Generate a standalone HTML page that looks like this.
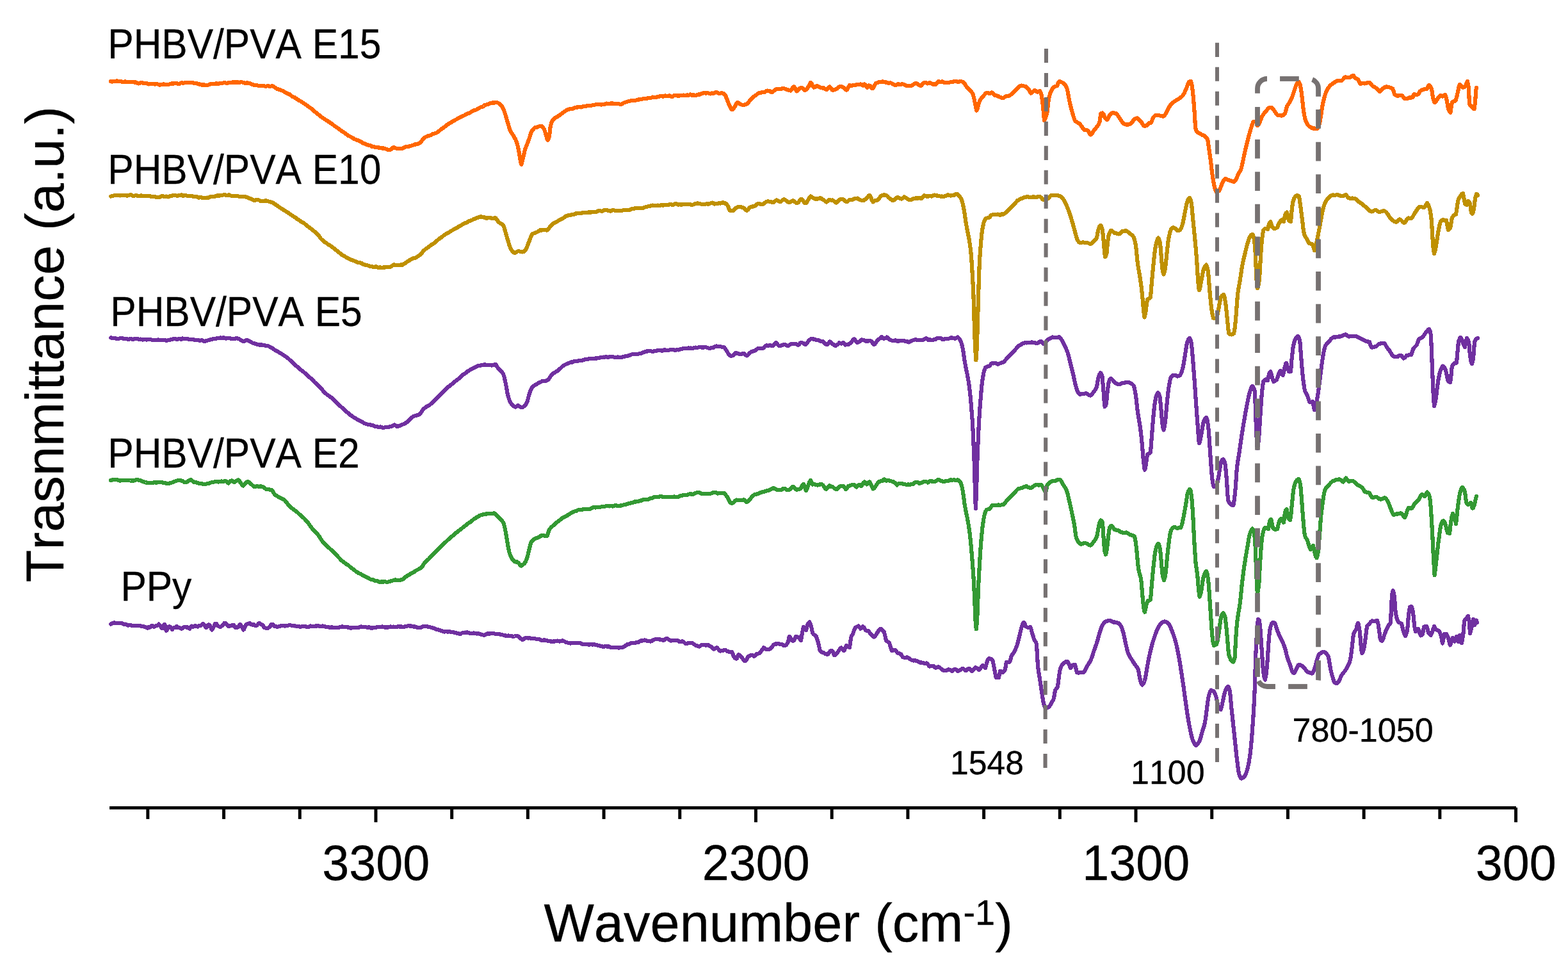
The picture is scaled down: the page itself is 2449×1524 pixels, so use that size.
<!DOCTYPE html>
<html lang="en"><head><meta charset="utf-8"><title>FTIR spectra</title>
<style>html,body{margin:0;padding:0;background:#fff}body{width:2449px;height:1524px;overflow:hidden}svg{display:block}</style></head>
<body>
<svg xmlns="http://www.w3.org/2000/svg" width="2449" height="1524" viewBox="0 0 2449 1524">
<rect width="2449" height="1524" fill="#ffffff"/>
<g fill="none" stroke-width="6.2" stroke-linejoin="round" stroke-linecap="round" shape-rendering="crispEdges">
<path stroke="#7030A0" d="M173.1,974.5 174.7,973.8 176.3,972.9 177.9,972.3 179.5,972.7 181.1,972.9 182.7,972.8 184.3,973.1 186.0,973.0 187.5,972.7 189.1,972.9 190.7,973.5 192.3,974.3 193.9,974.7 195.5,974.6 197.1,975.1 198.7,976.1 200.0,976.6 201.9,976.3 203.5,976.2 205.1,976.6 206.7,976.6 208.3,977.0 209.9,977.4 211.5,977.1 213.1,977.0 214.7,977.1 216.0,976.9 217.9,977.1 219.5,977.4 221.1,977.8 222.7,978.2 224.3,978.2 225.9,978.7 227.5,979.4 229.1,979.9 230.0,980.8 230.7,980.6 232.3,979.0 233.9,979.8 235.5,978.6 237.1,977.0 238.7,977.5 240.0,978.5 241.9,978.4 243.5,976.9 245.1,977.0 246.7,976.4 248.0,974.6 249.9,976.2 251.5,979.2 253.1,981.2 254.0,981.4 254.7,979.9 256.3,975.2 257.0,974.7 257.9,976.7 259.5,984.0 260.0,984.7 261.1,983.5 262.7,979.3 264.0,978.3 265.9,978.8 267.5,980.8 269.0,983.0 270.7,980.6 272.3,979.9 273.9,980.3 275.5,978.3 276.0,978.2 277.1,979.7 278.7,980.2 280.3,980.3 281.9,980.8 283.5,981.8 284.0,981.7 285.1,980.6 286.7,979.5 288.3,978.8 290.0,978.6 291.5,979.9 293.1,979.4 294.7,981.2 296.3,981.7 297.9,978.9 299.5,977.6 300.0,978.5 301.1,979.1 302.7,977.9 304.3,977.5 305.9,977.4 307.5,978.0 309.1,978.5 310.7,976.9 312.0,976.8 313.9,976.6 315.5,975.3 317.1,973.7 318.0,974.8 318.7,975.4 320.3,977.7 321.9,980.0 323.0,979.0 325.1,975.7 326.0,975.5 326.7,975.6 328.3,977.7 329.9,981.5 331.0,983.4 333.1,979.8 334.7,977.5 336.0,973.8 337.9,973.6 339.5,976.7 341.1,977.8 342.7,978.6 344.0,978.9 345.9,977.8 347.5,976.9 349.1,974.8 350.7,972.6 352.3,972.7 353.0,974.1 353.9,974.7 355.5,976.9 357.0,978.4 358.7,977.8 360.3,977.0 361.9,977.0 363.0,976.1 365.1,976.2 366.7,978.6 368.3,980.2 369.0,979.0 369.9,979.7 371.5,979.4 373.1,977.3 375.0,975.1 376.3,976.0 377.9,979.4 379.5,981.8 380.0,983.5 381.1,982.6 382.7,978.9 384.0,976.0 385.9,974.4 387.5,974.2 389.1,973.4 390.0,972.8 390.7,973.8 392.3,975.0 393.9,975.5 395.5,975.7 396.0,975.1 397.1,975.6 398.7,977.2 400.3,977.2 401.9,975.8 403.5,973.7 405.1,973.2 406.0,974.1 406.7,974.6 408.3,975.1 409.9,975.7 411.5,977.9 412.0,979.6 413.1,980.2 414.7,980.6 416.3,980.7 418.0,981.0 419.5,980.0 421.1,979.1 422.0,977.8 422.7,976.7 424.3,974.9 426.0,974.6 427.5,976.0 429.1,978.2 430.0,978.0 430.7,977.8 432.3,978.6 433.9,978.7 435.5,978.3 437.1,977.8 438.7,977.3 440.0,976.6 441.9,976.6 443.5,977.3 445.1,977.6 446.7,976.9 448.3,976.7 449.9,976.7 451.5,976.2 453.1,976.1 454.7,976.6 456.3,976.9 457.9,977.1 459.5,977.5 460.0,977.2 461.1,977.4 462.7,978.0 464.3,978.1 465.9,977.7 467.5,978.2 469.1,978.8 470.7,978.5 472.0,978.2 473.9,978.1 475.5,978.0 477.1,978.2 478.7,978.8 480.3,979.2 481.9,979.1 483.5,978.2 485.1,977.5 486.7,977.7 488.3,977.9 490.0,978.1 491.5,977.7 493.1,977.4 494.7,977.5 496.3,977.2 497.9,977.4 499.5,978.1 501.1,978.4 502.7,978.3 504.0,977.4 505.9,977.9 507.5,978.5 509.1,978.6 510.7,978.8 512.3,978.9 513.9,979.5 515.5,979.7 517.1,979.5 518.7,979.5 520.0,979.7 521.9,979.9 523.5,980.2 525.1,980.2 526.7,980.3 528.3,980.1 529.9,979.5 531.5,979.0 533.1,978.6 534.7,978.4 536.0,978.6 537.9,978.9 539.5,978.9 541.1,979.2 542.7,979.5 544.3,979.5 545.9,979.9 547.5,980.6 549.1,980.7 550.0,979.9 550.7,979.7 552.3,979.7 553.9,979.9 555.5,980.2 557.1,980.1 558.7,980.0 560.3,979.7 561.9,978.9 563.5,978.5 565.1,978.7 566.7,978.8 568.0,978.6 569.9,978.9 571.5,979.3 573.1,979.6 574.7,979.6 576.3,979.4 577.9,979.7 579.5,980.6 581.1,980.8 582.0,980.2 582.7,980.2 584.3,980.0 585.9,979.7 587.5,979.6 589.1,979.2 590.7,979.0 592.3,979.0 593.9,978.7 595.5,978.7 596.0,978.7 597.1,978.5 598.7,978.9 600.3,979.4 601.9,979.5 603.5,979.6 605.1,979.4 606.0,979.6 606.7,979.5 608.3,978.7 609.9,978.5 611.5,979.2 613.1,978.9 614.7,978.6 616.3,978.9 617.9,979.0 619.5,978.9 621.1,978.4 622.7,978.2 624.0,978.5 625.9,978.4 627.5,978.5 629.1,978.8 630.7,978.8 632.3,978.4 633.9,978.1 635.5,977.8 637.1,977.3 638.7,977.4 640.3,977.4 641.9,977.5 643.5,977.8 645.1,978.2 646.0,978.7 646.7,978.5 648.3,978.4 649.9,979.2 651.5,979.7 652.0,980.1 653.1,980.3 654.7,980.3 656.3,980.1 657.9,979.8 659.5,978.9 661.1,978.0 662.7,978.0 664.3,978.1 665.9,978.0 667.5,978.2 668.0,978.8 669.1,978.8 670.7,979.0 672.3,979.4 673.9,980.0 675.5,980.3 677.1,980.9 678.7,981.4 680.0,982.1 681.9,982.9 683.5,982.8 685.1,983.3 686.7,984.2 688.3,984.5 689.9,984.9 691.5,985.7 693.1,986.2 694.0,986.5 694.7,986.2 696.3,985.8 697.9,986.2 699.5,986.6 701.1,986.1 702.7,986.3 704.3,987.0 705.9,987.3 707.5,987.2 708.0,986.9 709.1,987.6 710.7,987.9 712.3,988.3 713.9,989.0 715.5,989.4 717.1,989.5 718.0,989.9 718.7,990.2 720.3,989.1 721.9,988.3 723.5,988.2 725.1,987.8 726.7,987.6 728.0,987.7 729.9,987.3 731.5,987.8 733.1,988.6 734.7,989.3 736.0,989.4 737.9,988.8 739.5,988.5 741.1,988.7 742.7,988.9 744.3,989.5 745.9,989.4 747.5,989.2 748.0,989.5 749.1,990.1 750.7,990.4 752.3,990.8 753.9,991.4 755.5,991.7 756.0,992.0 757.1,991.7 758.7,990.6 760.3,989.6 762.0,989.4 763.5,989.6 765.1,989.5 766.7,989.1 768.3,989.0 769.9,989.2 771.5,989.2 773.1,989.7 774.7,990.0 776.3,990.1 777.9,989.9 779.5,989.9 780.0,990.2 781.1,990.8 782.7,991.1 784.3,991.3 785.9,991.6 787.5,991.9 789.1,992.0 790.0,992.9 790.7,993.2 792.3,992.9 793.9,992.5 795.5,992.7 797.1,993.3 798.7,993.4 800.3,993.6 801.9,994.0 803.5,993.5 805.1,992.7 806.7,992.7 808.0,993.0 809.9,994.0 811.5,995.3 813.1,996.9 814.7,998.2 816.0,998.8 817.9,997.9 819.5,996.8 820.0,996.8 821.1,995.9 822.7,995.8 824.3,996.4 825.9,996.4 827.5,996.3 829.1,996.9 830.0,997.4 830.7,997.2 832.3,996.8 833.9,996.9 835.5,997.3 837.1,997.7 838.7,998.1 840.3,998.3 841.9,998.4 843.5,998.4 844.0,999.2 845.1,999.8 846.7,999.8 848.3,999.7 849.9,999.4 851.5,999.5 853.1,999.8 854.7,1000.4 856.3,1000.7 858.0,1000.6 859.5,1000.8 860.0,1001.4 861.1,1002.2 862.7,1001.8 864.3,1001.4 865.9,1001.5 867.5,1001.4 869.1,1001.0 870.7,1000.5 872.3,1000.9 873.9,1001.6 875.5,1001.3 877.1,1000.7 878.7,1000.4 880.0,1000.8 881.9,1001.7 883.5,1002.8 884.0,1003.1 885.1,1003.2 886.7,1003.6 888.3,1004.2 890.0,1004.4 891.5,1004.4 893.1,1004.0 894.7,1003.7 896.3,1003.9 897.9,1004.0 899.5,1004.2 901.1,1003.9 902.0,1003.7 902.7,1003.9 904.3,1004.0 905.9,1004.1 907.5,1004.7 909.1,1005.5 910.7,1006.1 912.0,1006.2 913.9,1006.2 915.5,1005.8 917.1,1006.1 918.7,1006.6 920.3,1006.5 921.9,1006.4 923.5,1005.8 924.0,1006.1 925.1,1006.5 926.7,1006.4 928.3,1006.3 929.9,1006.7 931.5,1006.7 933.1,1007.5 934.7,1008.1 936.0,1008.3 937.9,1008.6 939.5,1009.0 941.1,1009.5 942.0,1009.8 942.7,1010.0 944.3,1009.4 946.0,1009.2 947.5,1009.5 949.1,1009.6 950.7,1009.4 952.3,1010.0 953.9,1010.9 955.5,1011.2 956.0,1010.9 957.1,1010.9 958.7,1011.1 960.3,1011.2 961.9,1011.0 963.5,1010.9 965.1,1010.8 966.0,1011.3 966.7,1011.7 968.3,1011.2 969.9,1011.2 971.5,1011.1 973.1,1010.4 974.0,1010.2 974.7,1009.7 976.3,1008.8 977.9,1007.5 979.5,1006.4 980.0,1006.6 981.1,1006.4 982.7,1005.5 984.3,1004.9 985.9,1004.1 987.5,1003.8 988.0,1004.0 989.1,1003.9 990.7,1004.0 992.3,1003.9 993.9,1003.1 995.5,1002.8 996.0,1003.2 997.1,1003.1 998.7,1001.7 1000.3,1000.5 1002.0,1000.4 1003.5,1000.6 1005.1,999.8 1006.7,999.5 1008.0,999.7 1009.9,1000.4 1011.5,1000.9 1013.1,1000.8 1014.7,1000.9 1016.0,1001.5 1017.9,1001.0 1019.5,999.7 1021.1,998.9 1022.7,998.4 1024.0,998.1 1025.9,998.2 1027.5,998.3 1029.1,998.4 1030.0,998.4 1030.7,998.4 1032.3,998.9 1033.9,999.2 1035.5,999.7 1036.0,1000.0 1037.1,999.4 1038.7,998.3 1040.3,997.3 1042.0,996.9 1043.5,997.9 1045.1,999.0 1046.7,1000.2 1048.0,1000.5 1049.9,1000.2 1051.5,1000.0 1053.1,1000.1 1054.7,1000.3 1056.3,1000.3 1058.0,999.9 1059.5,1000.7 1061.1,1001.9 1062.0,1002.0 1062.7,1001.9 1064.3,1001.6 1066.0,1001.3 1067.5,1001.9 1069.1,1003.7 1071.0,1005.0 1072.3,1005.1 1073.9,1004.6 1075.5,1004.0 1077.1,1004.1 1078.7,1004.3 1080.0,1004.1 1081.9,1004.5 1083.5,1005.7 1085.1,1006.8 1086.0,1007.4 1086.7,1007.7 1088.3,1008.2 1089.9,1008.8 1091.5,1009.2 1092.0,1009.5 1093.1,1009.1 1094.7,1007.8 1096.0,1007.2 1097.9,1007.0 1099.5,1007.0 1101.1,1007.0 1102.0,1007.8 1102.7,1007.6 1104.3,1006.7 1105.9,1007.1 1107.5,1008.4 1109.1,1009.2 1110.0,1009.5 1110.7,1009.9 1112.3,1011.6 1113.9,1013.1 1115.0,1013.7 1117.1,1012.3 1119.0,1011.4 1120.3,1011.6 1121.9,1013.4 1123.5,1015.4 1125.1,1016.7 1126.0,1016.3 1126.7,1016.3 1128.3,1016.3 1129.9,1015.3 1131.5,1014.7 1132.0,1014.7 1133.1,1015.0 1134.7,1016.1 1136.3,1017.0 1138.0,1017.6 1139.5,1017.9 1141.1,1017.7 1143.0,1017.7 1144.3,1020.2 1146.0,1025.2 1147.5,1027.2 1149.1,1028.3 1150.0,1028.6 1150.7,1028.3 1152.3,1024.2 1153.6,1022.1 1155.5,1023.1 1157.1,1025.0 1158.0,1026.0 1158.7,1026.8 1160.3,1028.9 1161.9,1031.0 1163.5,1032.2 1164.0,1032.4 1165.1,1031.4 1166.7,1028.6 1168.3,1025.8 1169.0,1025.1 1169.9,1024.5 1171.5,1023.6 1173.1,1022.9 1174.0,1022.9 1174.7,1023.0 1176.3,1023.9 1178.0,1024.8 1179.5,1023.6 1181.1,1021.5 1182.0,1021.0 1182.7,1021.0 1184.3,1020.6 1186.0,1020.0 1187.5,1018.8 1189.1,1016.5 1190.7,1014.2 1192.3,1012.3 1193.0,1011.3 1193.9,1011.7 1195.5,1013.0 1197.1,1014.0 1198.7,1014.0 1200.0,1013.8 1201.9,1013.7 1203.5,1012.7 1204.0,1012.3 1205.1,1011.3 1206.7,1008.9 1208.3,1006.9 1209.0,1006.5 1209.9,1005.8 1211.5,1005.4 1213.1,1005.5 1214.0,1005.0 1214.7,1004.6 1216.3,1005.1 1217.9,1005.8 1219.5,1005.9 1220.0,1005.9 1221.1,1006.1 1222.7,1007.0 1224.3,1008.0 1226.0,1008.1 1227.5,1007.3 1229.1,1005.4 1231.0,1001.9 1232.3,995.9 1233.0,994.1 1233.9,994.9 1235.5,998.1 1237.0,1000.2 1238.7,1000.8 1240.0,1000.2 1241.9,996.1 1243.0,994.2 1245.1,994.3 1246.7,995.0 1248.0,996.0 1249.9,999.0 1251.0,1000.1 1253.0,988.0 1255.0,979.0 1256.3,980.1 1257.9,983.0 1259.0,984.1 1261.0,976.0 1262.7,972.8 1264.4,971.4 1265.9,974.4 1267.0,978.1 1269.0,988.1 1270.7,990.5 1272.3,991.4 1273.9,992.8 1275.0,994.2 1277.1,1000.6 1278.0,1004.0 1278.7,1007.0 1280.3,1014.3 1281.0,1016.0 1281.9,1017.0 1283.5,1018.3 1285.1,1019.0 1286.0,1019.1 1286.7,1019.4 1288.3,1020.5 1289.9,1021.3 1291.5,1021.7 1292.0,1021.8 1293.1,1021.6 1294.7,1019.6 1296.3,1017.0 1298.0,1015.7 1299.5,1016.6 1300.0,1016.5 1301.1,1018.3 1303.0,1023.2 1304.3,1022.9 1305.9,1021.4 1307.5,1019.6 1308.0,1018.9 1309.1,1017.5 1310.7,1015.0 1312.3,1012.6 1314.0,1011.4 1315.5,1013.3 1317.1,1015.5 1318.0,1016.0 1318.7,1015.5 1320.3,1011.3 1322.0,1008.2 1323.5,1008.8 1325.1,1010.2 1327.0,1011.1 1328.3,1001.2 1329.0,996.0 1329.9,993.5 1331.5,990.8 1332.0,989.9 1333.1,986.9 1334.7,982.2 1336.0,979.8 1337.9,978.8 1339.5,978.0 1341.0,977.5 1342.7,979.7 1344.0,981.7 1345.9,980.0 1347.5,978.3 1348.0,978.6 1349.1,979.3 1350.7,982.2 1352.0,984.0 1353.9,984.8 1355.5,985.0 1356.0,985.1 1357.1,986.2 1358.7,988.5 1360.0,990.3 1361.9,992.2 1363.5,993.6 1365.1,994.7 1366.0,994.4 1366.7,993.6 1368.3,991.1 1370.0,988.1 1371.5,986.0 1373.1,983.6 1375.0,981.8 1376.3,982.2 1377.9,983.5 1379.5,985.3 1381.0,987.1 1382.7,994.5 1384.0,999.9 1385.9,1001.7 1387.5,1002.6 1389.0,1004.0 1390.7,1009.3 1392.3,1015.0 1393.0,1016.1 1393.9,1016.2 1395.5,1015.5 1397.1,1014.9 1398.0,1014.6 1398.7,1015.1 1400.3,1017.8 1402.0,1019.8 1403.5,1019.8 1405.1,1020.4 1407.0,1021.2 1408.3,1023.2 1410.0,1026.1 1411.5,1026.5 1413.1,1026.9 1414.7,1026.8 1416.3,1026.4 1418.0,1026.7 1419.5,1027.6 1421.1,1029.1 1422.7,1030.2 1424.0,1030.6 1425.9,1031.4 1427.5,1031.5 1429.1,1031.2 1430.7,1031.9 1432.0,1032.2 1433.9,1032.9 1435.5,1033.9 1437.1,1034.7 1438.0,1034.6 1438.7,1034.4 1440.3,1034.8 1441.9,1035.3 1443.5,1035.6 1445.1,1035.8 1446.7,1035.5 1448.0,1035.6 1449.9,1038.3 1451.5,1040.6 1452.0,1040.5 1453.1,1040.4 1454.7,1040.1 1456.3,1040.0 1458.0,1040.0 1459.5,1041.2 1461.1,1042.7 1462.0,1042.6 1462.7,1042.3 1464.3,1041.6 1466.0,1041.2 1467.5,1042.3 1469.1,1043.6 1470.7,1044.8 1472.0,1045.9 1473.9,1046.8 1475.5,1046.8 1477.1,1046.9 1478.0,1047.0 1478.7,1046.6 1480.3,1045.7 1482.0,1045.3 1483.5,1045.8 1485.1,1046.8 1486.0,1047.1 1486.7,1048.0 1488.3,1046.9 1489.9,1045.4 1491.5,1045.0 1492.0,1045.3 1493.1,1045.4 1494.7,1046.7 1496.0,1048.0 1497.9,1047.4 1499.5,1046.2 1501.1,1045.2 1502.7,1044.2 1504.0,1044.0 1505.9,1045.4 1507.5,1046.6 1508.0,1047.1 1509.1,1046.9 1510.7,1045.5 1512.3,1044.1 1514.0,1043.7 1515.5,1044.9 1517.1,1047.6 1518.0,1048.1 1518.7,1047.8 1520.3,1046.0 1521.9,1043.6 1523.5,1042.2 1524.0,1042.4 1525.1,1042.6 1526.7,1044.0 1528.3,1045.8 1529.0,1046.4 1529.9,1045.8 1531.5,1043.5 1533.1,1040.7 1535.0,1039.0 1536.3,1040.0 1537.9,1042.2 1539.0,1042.8 1541.1,1035.2 1542.0,1032.1 1542.7,1030.7 1544.3,1028.3 1545.0,1028.0 1545.9,1028.4 1547.5,1028.8 1549.1,1030.1 1550.0,1031.1 1550.7,1032.7 1552.3,1040.5 1553.0,1044.1 1553.9,1049.1 1555.5,1057.4 1556.0,1058.1 1557.1,1057.9 1558.7,1058.2 1560.0,1058.1 1562.0,1048.1 1563.5,1048.4 1565.1,1049.5 1566.0,1049.9 1566.7,1049.7 1568.3,1048.1 1570.0,1045.1 1571.5,1035.7 1572.0,1034.0 1573.1,1033.6 1574.7,1033.7 1576.3,1033.7 1577.0,1033.0 1577.9,1031.2 1579.5,1025.2 1580.0,1024.0 1581.1,1022.2 1582.7,1020.0 1584.0,1017.8 1585.9,1014.0 1587.5,1010.3 1588.0,1009.0 1589.1,1005.4 1590.7,999.2 1592.0,994.0 1593.9,985.9 1595.5,979.5 1596.0,977.9 1597.1,974.7 1599.0,971.7 1600.3,973.8 1602.0,978.0 1603.5,979.1 1605.1,979.8 1606.0,980.1 1606.7,979.9 1608.3,979.3 1609.0,978.9 1609.9,980.4 1611.5,986.3 1612.0,988.0 1613.1,991.9 1615.0,998.1 1616.3,1000.2 1617.9,1002.9 1619.0,1006.1 1621.0,1040.0 1622.7,1052.4 1624.0,1060.0 1625.9,1072.8 1627.0,1080.0 1629.1,1093.8 1630.0,1098.0 1630.7,1100.5 1632.3,1105.1 1633.6,1106.0 1635.5,1105.2 1637.0,1104.8 1638.7,1103.4 1640.3,1100.9 1642.0,1097.9 1643.5,1095.4 1645.1,1092.5 1646.0,1090.1 1646.7,1086.1 1648.0,1078.0 1649.9,1075.3 1651.5,1073.1 1652.0,1072.0 1653.1,1064.1 1654.0,1056.0 1654.7,1051.1 1656.0,1044.0 1657.9,1039.7 1659.0,1038.0 1661.1,1035.5 1663.0,1034.3 1664.3,1033.7 1665.9,1032.6 1667.0,1032.7 1669.1,1036.0 1670.0,1038.0 1670.7,1040.1 1672.0,1043.2 1673.9,1040.4 1675.0,1038.8 1677.1,1038.1 1679.0,1038.0 1680.3,1042.9 1682.0,1050.1 1683.5,1050.4 1685.1,1050.6 1686.7,1050.3 1688.0,1050.2 1689.9,1050.2 1691.5,1050.0 1693.0,1049.4 1694.7,1047.1 1696.3,1043.6 1698.0,1040.0 1699.5,1037.6 1701.1,1035.2 1702.7,1032.7 1704.0,1030.0 1705.9,1024.7 1707.5,1019.6 1708.0,1018.0 1709.1,1014.9 1710.7,1010.5 1712.3,1006.0 1713.0,1003.9 1713.9,1001.1 1715.5,995.2 1717.0,989.9 1718.7,984.2 1720.3,979.6 1721.0,977.9 1721.9,976.2 1723.5,973.7 1725.1,971.6 1726.0,970.9 1726.7,970.7 1728.3,970.0 1729.9,969.5 1731.5,969.4 1733.1,969.2 1734.0,969.0 1734.7,969.4 1736.3,970.1 1737.9,971.1 1739.5,971.6 1740.0,971.4 1741.1,971.5 1742.7,971.7 1744.3,972.2 1745.9,972.8 1747.0,973.2 1749.1,975.0 1751.0,978.0 1752.3,981.0 1753.9,986.0 1755.0,990.0 1757.1,999.9 1758.0,1004.1 1758.7,1007.1 1760.3,1014.2 1762.0,1020.1 1763.5,1023.4 1765.1,1026.1 1767.0,1029.0 1768.3,1030.9 1769.9,1033.5 1771.5,1036.0 1772.0,1036.8 1773.1,1038.4 1774.7,1040.3 1776.3,1042.5 1778.0,1046.1 1779.0,1052.0 1780.0,1058.0 1781.1,1062.8 1782.7,1068.2 1784.0,1069.5 1785.9,1067.6 1787.5,1063.5 1788.0,1062.0 1789.1,1057.4 1790.7,1047.7 1792.0,1040.0 1793.9,1030.3 1795.5,1022.6 1797.0,1015.9 1798.7,1009.2 1800.3,1003.4 1802.0,997.9 1803.5,993.4 1805.1,988.9 1806.7,984.8 1808.0,982.0 1809.9,978.3 1811.5,975.8 1813.1,973.9 1814.0,973.1 1814.7,972.4 1816.3,971.4 1817.9,970.7 1819.0,970.4 1821.1,971.0 1822.7,972.0 1824.3,973.1 1825.0,973.6 1825.9,974.9 1827.5,978.0 1829.1,981.7 1830.0,984.0 1830.7,985.7 1832.3,989.8 1833.9,994.4 1835.0,998.0 1837.1,1005.9 1839.0,1014.1 1840.3,1020.6 1841.9,1029.5 1843.0,1036.0 1845.1,1049.3 1847.0,1062.0 1848.3,1070.9 1849.9,1082.2 1851.0,1090.0 1853.1,1105.1 1855.0,1118.0 1856.3,1125.8 1857.9,1134.6 1859.0,1140.0 1861.1,1149.6 1863.0,1156.0 1864.3,1158.9 1865.9,1162.3 1867.5,1164.1 1868.0,1164.1 1869.1,1163.5 1870.7,1161.6 1872.3,1158.9 1873.0,1157.9 1873.9,1156.1 1875.5,1151.0 1877.1,1145.1 1878.0,1141.8 1878.7,1139.6 1880.3,1134.7 1882.0,1128.0 1883.5,1117.8 1885.0,1106.0 1886.7,1093.1 1888.0,1086.0 1889.9,1080.5 1891.5,1077.6 1892.0,1077.8 1893.1,1078.3 1894.7,1079.0 1896.0,1079.8 1897.9,1083.4 1899.5,1088.4 1900.0,1090.0 1901.1,1096.1 1903.0,1106.0 1904.3,1107.1 1905.9,1107.4 1907.0,1107.8 1909.1,1098.9 1910.0,1094.0 1910.7,1090.9 1912.3,1083.7 1914.0,1078.1 1915.5,1074.8 1917.1,1072.4 1918.0,1071.8 1918.7,1072.4 1920.3,1077.1 1921.0,1080.0 1921.9,1088.3 1923.0,1102.0 1925.1,1121.8 1926.0,1130.0 1926.7,1136.5 1928.3,1151.4 1929.0,1158.0 1929.9,1166.6 1931.5,1181.8 1932.0,1186.0 1933.1,1195.5 1935.0,1208.0 1936.3,1211.9 1937.9,1215.2 1939.0,1215.7 1941.1,1214.7 1942.7,1213.3 1944.0,1212.0 1945.9,1208.4 1947.5,1203.5 1949.0,1198.0 1950.7,1189.9 1952.3,1179.4 1953.0,1174.0 1953.9,1165.6 1955.5,1146.4 1956.0,1140.0 1957.1,1124.5 1958.0,1110.0 1958.7,1098.0 1960.0,1070.0 1961.0,1030.0 1961.9,1009.3 1962.4,1000.0 1963.5,980.3 1964.0,974.0 1965.0,967.1 1967.0,969.0 1968.3,980.7 1969.0,990.0 1969.9,1002.9 1971.0,1020.0 1973.0,1048.0 1974.7,1058.1 1976.0,1061.6 1978.0,1050.1 1979.5,1032.8 1980.0,1026.0 1981.1,1008.6 1982.0,996.0 1982.7,988.9 1984.0,979.9 1985.9,974.4 1987.5,972.1 1988.0,972.3 1989.1,972.1 1991.0,972.7 1992.3,975.8 1994.0,981.9 1995.5,985.8 1997.1,989.7 1999.0,994.0 2000.3,996.6 2001.9,999.6 2003.0,1002.0 2005.1,1006.9 2007.0,1012.1 2008.3,1017.0 2009.9,1024.0 2011.0,1028.0 2013.1,1033.3 2015.0,1038.0 2016.3,1042.8 2018.0,1048.1 2019.5,1050.3 2021.0,1051.3 2022.7,1048.9 2024.3,1045.3 2025.0,1044.0 2025.9,1041.9 2027.5,1038.5 2028.0,1038.3 2029.1,1038.3 2030.7,1038.4 2032.0,1038.9 2033.9,1040.1 2035.5,1041.6 2037.0,1043.1 2038.7,1045.0 2040.3,1047.4 2042.0,1049.4 2043.5,1049.9 2045.1,1050.3 2046.7,1050.7 2048.3,1051.1 2049.0,1051.6 2049.9,1051.0 2051.5,1048.4 2053.1,1044.3 2054.0,1041.8 2054.7,1039.6 2056.3,1032.6 2057.0,1030.0 2057.9,1027.1 2059.5,1022.8 2060.0,1022.0 2061.1,1021.1 2062.7,1020.0 2064.3,1018.9 2065.0,1018.4 2065.9,1018.1 2067.5,1018.3 2069.0,1018.5 2070.7,1019.2 2072.3,1021.2 2073.9,1023.9 2075.0,1026.2 2077.1,1038.5 2078.0,1044.1 2078.7,1047.3 2080.3,1053.7 2081.0,1056.0 2081.9,1058.9 2083.5,1063.8 2085.0,1066.3 2086.7,1066.8 2088.0,1067.2 2089.9,1065.5 2091.5,1062.9 2092.0,1062.1 2093.1,1059.6 2095.0,1055.0 2096.3,1053.0 2097.9,1050.9 2099.5,1049.0 2101.0,1047.1 2102.7,1044.5 2104.0,1042.4 2105.9,1038.7 2107.5,1034.8 2109.0,1030.0 2110.7,1018.9 2112.0,1007.9 2114.0,989.9 2115.5,986.5 2117.1,984.4 2118.0,983.0 2118.7,980.7 2120.3,974.0 2121.0,973.0 2121.9,975.0 2123.5,984.4 2124.0,988.0 2125.1,1001.4 2126.0,1012.0 2126.7,1017.3 2127.4,1020.0 2128.3,1019.2 2130.0,1014.1 2131.5,1005.5 2133.0,994.1 2135.0,978.0 2136.3,976.2 2137.9,975.1 2139.0,974.0 2141.1,971.2 2143.0,969.5 2144.3,969.8 2145.9,970.1 2147.5,969.7 2149.1,969.4 2151.0,969.1 2152.3,973.1 2154.0,984.0 2155.5,995.8 2156.0,998.0 2157.1,999.9 2158.6,1001.1 2160.3,997.7 2162.0,992.0 2163.5,987.9 2165.0,984.1 2166.7,980.4 2168.3,977.1 2169.0,975.8 2169.9,975.2 2171.5,973.4 2172.0,972.0 2173.0,950.0 2174.0,930.0 2174.7,925.4 2175.6,922.4 2176.3,923.7 2178.0,932.0 2179.0,950.0 2181.0,963.9 2182.7,968.6 2184.3,971.4 2185.0,971.9 2185.9,972.2 2187.5,973.0 2189.0,974.1 2190.7,980.5 2192.0,986.1 2193.9,991.1 2195.0,992.9 2197.1,987.9 2198.0,984.0 2198.7,977.2 2200.0,960.0 2202.0,948.0 2203.5,946.9 2204.4,946.8 2205.1,947.8 2207.0,956.0 2208.3,969.2 2209.0,976.1 2209.9,982.1 2211.0,986.1 2213.1,984.0 2215.0,982.2 2216.3,984.4 2217.9,990.2 2219.0,992.4 2221.1,991.5 2222.0,990.1 2222.7,986.6 2224.0,978.9 2225.9,977.8 2227.5,977.9 2228.0,978.1 2229.1,980.6 2231.0,987.8 2232.3,989.7 2233.9,991.5 2235.0,991.8 2237.1,987.0 2238.0,984.0 2238.7,981.5 2240.0,978.1 2241.9,981.3 2243.0,983.2 2245.1,984.0 2247.0,984.8 2248.3,986.6 2249.9,990.5 2251.0,993.9 2253.0,1004.5 2254.7,995.9 2256.0,990.0 2257.9,990.6 2259.0,990.2 2261.1,993.6 2262.0,996.1 2262.7,998.6 2264.3,1005.9 2265.0,1007.4 2265.9,1005.7 2267.5,999.5 2269.0,996.1 2270.7,999.6 2272.0,1001.6 2273.9,996.3 2275.0,993.8 2277.1,1000.4 2278.0,1002.0 2278.7,999.2 2280.0,991.9 2281.9,1000.3 2283.0,1004.0 2285.4,990.1 2287.0,970.1 2288.3,967.4 2289.9,965.9 2291.0,964.7 2293.0,961.9 2295.0,972.1 2296.0,988.9 2297.9,982.0 2299.0,976.5 2301.0,966.9 2303.0,976.0 2304.3,973.2 2306.0,968.6 2307.0,972.0"/>
<path stroke="#339933" d="M173.1,749.7 174.7,749.5 176.3,749.3 177.9,749.1 179.5,749.4 181.1,749.2 182.7,749.4 184.3,749.5 185.9,749.9 187.5,750.6 189.1,750.1 190.7,750.1 192.3,750.1 193.9,749.8 195.5,750.2 197.1,750.3 198.7,750.2 200.0,749.7 201.9,749.7 203.5,750.5 205.1,750.5 206.7,750.4 208.3,750.6 209.9,750.4 211.5,749.7 213.1,749.3 214.7,749.4 216.3,749.5 217.9,749.7 219.5,750.3 220.0,750.7 221.1,751.1 222.7,751.7 224.3,752.2 225.9,752.9 227.5,753.5 229.1,753.5 230.0,753.6 230.7,753.8 232.3,753.6 233.9,753.6 235.5,754.0 237.1,754.3 238.7,754.0 240.3,753.5 241.9,753.3 243.5,753.7 245.1,753.7 246.7,752.6 248.3,753.0 249.9,753.4 251.5,753.3 253.1,753.1 254.7,753.8 256.0,753.6 257.9,754.0 259.5,754.9 260.0,754.8 261.1,754.9 262.7,754.9 264.3,754.8 265.9,754.3 267.5,753.7 269.1,753.4 270.7,752.8 272.3,752.0 273.9,751.3 275.5,751.0 277.1,750.3 278.7,749.8 280.3,750.0 282.0,750.4 283.5,750.5 285.1,750.9 286.7,752.2 288.3,753.2 290.0,753.1 291.5,752.6 293.1,751.8 294.7,750.8 296.3,749.8 298.0,749.1 299.5,750.2 301.1,751.5 302.7,752.7 304.0,752.7 305.9,752.9 307.5,753.7 309.1,754.3 310.7,754.8 312.3,754.9 313.9,754.9 315.5,755.4 317.1,756.1 318.7,756.0 320.0,755.8 321.9,755.8 323.5,755.2 325.1,755.0 326.7,754.7 328.3,753.9 329.9,753.4 331.5,753.2 333.1,752.9 334.7,752.4 336.0,752.0 337.9,751.6 339.5,752.0 341.1,752.6 342.7,752.0 344.3,751.7 345.9,751.5 347.5,751.7 349.1,751.8 350.7,751.3 352.0,750.7 353.9,752.1 355.5,754.1 357.0,754.6 358.7,752.9 360.3,750.7 361.0,750.6 361.9,750.4 363.5,751.4 365.1,752.6 366.0,752.9 366.7,752.6 368.3,751.6 369.9,750.6 371.5,749.8 372.0,749.3 373.1,750.1 374.7,752.2 376.3,754.7 377.9,756.8 379.5,758.2 380.0,758.6 381.1,757.4 382.7,755.3 384.3,753.3 386.0,752.5 387.5,752.2 389.1,752.7 390.7,754.4 392.3,756.0 393.9,757.4 395.5,758.8 397.1,759.9 399.0,760.1 400.0,759.3 401.9,759.1 403.5,759.6 405.1,759.6 406.7,759.5 408.3,759.5 410.0,760.0 411.5,760.7 413.1,761.9 414.7,763.1 416.0,764.1 417.9,764.4 419.5,764.1 421.1,764.6 422.7,764.6 424.3,765.3 425.0,766.2 425.9,767.0 427.5,769.6 429.0,771.9 430.7,773.3 432.3,774.2 433.9,775.4 435.5,776.3 437.1,777.1 438.7,777.7 440.3,778.4 441.9,779.4 443.5,780.5 444.0,780.6 445.1,781.7 446.7,783.5 448.3,785.7 449.9,787.8 451.5,789.5 452.0,789.8 453.1,790.9 454.7,792.6 456.3,793.9 457.9,795.0 459.5,796.3 461.1,797.4 462.7,798.4 464.0,799.6 465.9,801.4 467.5,802.9 469.1,804.3 470.7,805.7 472.3,807.2 473.9,808.5 475.5,810.0 477.1,811.8 478.7,813.5 480.0,815.0 481.9,817.4 483.5,819.8 485.1,822.0 486.7,824.2 488.0,826.1 489.9,828.3 491.5,829.6 493.1,831.3 494.7,832.9 496.0,834.2 497.9,836.5 499.5,838.9 501.1,841.5 502.7,844.1 504.0,846.0 505.9,848.1 507.5,849.7 509.1,851.2 510.7,852.6 512.3,854.1 513.9,855.5 515.5,857.1 517.1,858.4 518.7,859.6 520.0,860.8 521.9,862.6 523.5,864.4 525.1,866.0 526.7,867.9 528.3,869.7 529.9,871.4 531.5,873.1 533.1,874.9 534.7,876.2 536.0,877.2 537.9,878.5 539.5,879.6 541.1,880.9 542.7,881.7 544.3,882.7 545.9,884.4 547.5,885.7 548.0,885.9 549.1,887.0 550.7,888.1 552.3,889.2 553.9,890.5 555.5,892.0 557.1,893.0 558.7,894.0 560.0,894.8 561.9,895.7 563.5,896.4 565.1,897.3 566.7,898.2 568.3,899.1 570.0,899.8 571.5,900.8 573.1,901.5 574.7,902.3 576.3,903.3 577.9,904.2 579.5,904.9 580.0,905.2 581.1,905.3 582.7,905.5 584.3,906.3 585.9,907.3 587.5,907.2 589.1,907.0 590.7,907.9 592.0,908.8 593.9,908.8 595.5,908.4 597.1,908.4 598.7,908.5 600.3,908.3 601.9,908.4 603.5,908.8 605.1,908.7 606.7,908.5 608.0,907.9 609.9,907.6 611.5,907.2 613.1,906.7 614.7,906.0 616.0,905.6 617.9,905.5 619.5,905.9 621.1,906.1 622.7,905.8 624.3,905.8 626.0,905.6 627.5,905.1 629.1,904.5 630.7,903.3 632.3,901.6 633.9,900.6 635.5,899.7 636.0,899.2 637.1,898.5 638.7,897.7 640.3,896.6 641.9,895.7 643.5,895.0 645.1,894.0 646.7,893.0 648.0,892.1 649.9,890.8 651.5,890.0 653.1,889.3 654.7,888.3 656.3,887.3 658.0,886.2 659.5,884.5 661.1,882.1 662.7,879.5 664.0,877.8 665.9,875.8 667.5,874.5 669.1,873.3 670.0,872.5 670.7,871.5 672.3,869.8 673.9,868.1 675.5,866.5 677.1,865.0 678.7,863.2 680.0,861.9 681.9,860.1 683.5,858.5 685.1,856.9 686.7,855.4 688.3,853.9 690.0,852.2 691.5,850.7 693.1,849.1 694.7,847.5 696.3,846.1 697.9,844.6 699.5,843.1 701.1,841.8 702.7,840.5 704.0,839.2 705.9,837.5 707.5,836.2 709.1,834.9 710.7,833.3 712.3,831.9 713.9,831.0 715.5,829.8 717.1,828.3 718.7,827.0 720.0,826.2 721.9,824.7 723.5,823.2 725.1,821.9 726.7,820.8 728.3,819.8 729.9,818.4 731.5,817.0 733.1,816.0 734.7,815.1 736.0,814.1 737.9,812.4 739.5,811.1 741.1,810.0 742.7,809.0 744.3,807.9 745.9,806.9 747.5,806.1 748.0,805.8 749.1,805.1 750.7,804.4 752.3,803.9 753.9,803.5 755.5,803.3 757.1,802.8 758.7,802.5 760.0,802.5 761.9,802.1 763.5,802.0 765.1,801.6 766.7,801.6 768.3,802.1 769.9,801.9 771.5,801.4 772.0,801.3 773.1,801.8 774.7,803.5 776.0,805.0 777.9,806.8 779.5,808.5 781.1,810.2 782.0,811.1 782.7,811.7 784.3,813.5 785.9,815.9 787.0,818.1 789.1,827.1 790.0,832.0 790.7,835.9 792.3,846.0 793.0,850.1 793.9,854.9 795.5,862.4 796.0,864.1 797.1,867.3 799.0,871.2 800.3,873.1 801.9,875.1 803.5,876.5 804.0,877.0 805.1,877.4 806.7,877.5 808.0,877.5 809.9,879.0 811.5,881.1 813.1,883.0 814.0,883.7 814.7,882.9 816.3,882.0 817.9,880.6 819.0,879.8 821.1,876.6 823.0,872.0 824.3,867.3 826.0,860.1 827.5,853.9 829.1,847.9 830.0,846.2 830.7,845.3 832.3,843.4 833.9,842.1 835.5,841.3 836.0,841.0 837.1,840.4 838.7,840.0 840.0,839.7 841.9,838.7 843.5,837.4 845.1,836.4 846.0,836.6 846.7,836.2 848.3,836.0 849.9,836.5 851.5,836.9 853.1,837.1 854.0,837.0 854.7,836.4 856.3,831.7 858.0,826.9 859.5,825.0 861.1,823.2 862.7,821.7 864.3,820.4 866.0,819.0 867.5,817.3 869.1,815.9 870.7,814.9 872.3,813.7 873.9,812.4 875.5,811.4 876.0,811.2 877.1,810.0 878.7,808.7 880.3,808.1 881.9,807.2 883.5,806.3 884.0,806.3 885.1,805.6 886.7,804.4 888.3,803.3 889.9,802.3 891.5,801.5 893.1,800.6 894.7,799.8 896.3,798.9 897.9,798.3 899.5,797.9 900.0,797.8 901.1,797.2 902.7,796.4 904.3,796.3 905.9,796.1 907.5,796.1 909.1,795.8 910.7,795.3 912.3,795.2 913.9,795.3 915.5,794.9 917.1,795.0 918.7,795.3 920.0,795.4 921.9,794.5 923.5,793.5 925.1,792.8 926.7,792.3 928.3,792.2 929.9,792.6 931.5,792.3 933.1,791.7 934.7,791.8 936.3,791.7 937.9,791.7 939.5,791.2 940.0,790.7 941.1,791.0 942.7,791.2 944.3,790.9 945.9,790.4 947.5,790.0 949.1,790.0 950.7,790.4 952.3,790.4 953.9,790.0 955.5,790.2 957.1,790.5 958.7,789.9 960.3,789.4 961.9,789.3 963.5,789.6 965.1,789.9 966.7,789.8 968.3,789.6 970.0,789.5 971.5,789.1 973.1,788.6 974.7,788.1 976.3,787.9 977.9,787.5 979.5,787.1 981.1,786.4 982.7,786.0 984.3,785.7 985.9,785.2 987.5,784.8 989.1,784.7 990.0,784.2 990.7,783.5 992.3,783.4 993.9,783.4 995.5,783.0 997.1,783.0 998.7,782.2 1000.3,781.5 1001.9,781.6 1003.5,780.7 1005.1,779.8 1006.7,780.1 1008.3,780.0 1010.0,780.0 1011.5,779.9 1013.1,779.4 1014.7,778.5 1016.3,777.9 1017.9,777.9 1019.5,777.4 1021.1,776.6 1022.7,775.9 1024.3,775.7 1026.0,775.9 1027.5,775.9 1029.1,775.7 1030.7,775.2 1032.3,775.0 1033.9,775.5 1035.5,775.8 1037.1,776.2 1038.7,776.3 1040.0,775.7 1041.9,775.7 1043.5,776.2 1045.1,776.1 1046.7,775.9 1048.3,776.4 1049.9,776.3 1051.5,775.7 1053.1,775.4 1054.0,775.7 1054.7,776.2 1056.3,776.3 1057.9,776.3 1059.5,775.7 1061.1,774.8 1062.7,774.4 1064.3,774.0 1065.9,773.5 1067.5,773.0 1069.1,772.6 1070.0,772.6 1070.7,772.8 1072.3,772.9 1073.9,772.7 1075.5,772.0 1077.1,771.3 1079.0,771.0 1080.0,772.0 1081.9,772.0 1083.5,771.3 1085.1,770.6 1086.7,769.8 1088.0,769.4 1089.9,769.2 1091.5,769.2 1093.1,769.5 1094.7,770.5 1096.3,770.9 1097.9,770.7 1099.5,770.9 1101.1,771.4 1102.7,771.2 1104.3,770.8 1106.0,771.0 1107.5,771.1 1109.1,770.9 1110.7,770.4 1112.3,769.7 1113.9,769.2 1115.5,769.0 1117.1,769.4 1118.0,769.3 1118.7,769.4 1120.3,770.4 1121.9,770.4 1123.5,769.8 1125.1,769.7 1126.7,769.7 1128.3,770.0 1130.0,769.9 1131.5,770.2 1133.1,772.0 1134.7,774.4 1136.0,776.1 1137.9,780.0 1139.5,783.5 1140.0,784.2 1141.1,785.1 1142.7,786.0 1144.0,785.7 1145.9,784.5 1147.5,782.9 1149.1,781.2 1150.0,780.7 1150.7,780.6 1152.3,781.0 1153.9,780.8 1155.5,781.0 1157.0,781.3 1158.7,781.3 1160.3,780.8 1162.0,780.2 1163.5,781.2 1165.1,783.6 1166.0,784.1 1166.7,783.8 1168.3,782.7 1169.9,780.9 1171.0,780.0 1173.1,777.4 1174.7,775.3 1176.0,774.1 1177.9,772.6 1179.5,771.9 1181.1,771.7 1182.7,771.2 1184.3,770.7 1186.0,769.9 1187.5,769.2 1189.1,768.7 1190.7,768.2 1192.3,767.7 1194.0,767.5 1195.5,767.3 1197.1,766.4 1198.7,766.2 1200.0,766.2 1201.9,765.1 1203.5,764.2 1205.1,763.3 1206.7,762.5 1208.0,762.2 1209.9,762.7 1211.5,763.5 1212.0,764.1 1213.1,764.6 1214.7,764.7 1216.3,764.7 1217.9,765.1 1219.5,765.3 1220.0,764.9 1221.1,764.4 1222.7,763.3 1224.0,762.8 1225.9,763.1 1227.5,764.0 1229.1,764.9 1230.7,764.9 1232.0,765.2 1233.9,764.3 1235.5,762.2 1237.1,760.5 1238.0,759.6 1238.7,759.9 1240.3,761.5 1241.9,763.1 1243.5,764.2 1244.0,764.5 1245.1,764.6 1246.7,763.9 1248.3,763.6 1250.0,763.3 1251.5,761.4 1253.1,758.2 1255.0,756.1 1256.3,758.4 1257.9,764.0 1259.0,766.0 1261.1,761.7 1263.0,756.2 1264.3,752.8 1266.0,750.2 1267.5,753.3 1269.0,756.6 1270.7,756.2 1272.3,756.2 1273.9,757.0 1275.5,757.1 1276.0,757.4 1277.1,757.6 1278.7,756.9 1280.3,756.5 1281.9,756.4 1283.0,756.0 1285.1,757.3 1286.7,759.6 1288.3,761.9 1289.9,763.6 1291.0,763.5 1293.1,761.0 1295.0,758.5 1296.3,758.6 1297.9,759.8 1299.5,760.4 1300.0,760.2 1301.1,760.8 1302.7,762.1 1304.3,763.1 1306.0,764.1 1307.5,763.6 1309.1,761.7 1310.7,759.9 1312.0,759.4 1313.9,759.3 1315.5,758.9 1317.0,759.0 1318.7,760.4 1320.3,762.6 1321.0,764.1 1321.9,763.6 1323.5,761.2 1325.1,759.1 1326.0,758.7 1326.7,758.9 1328.3,758.0 1329.9,757.4 1331.5,757.0 1333.1,756.8 1334.0,757.2 1334.7,757.4 1336.3,759.1 1338.0,760.6 1339.5,758.7 1341.1,757.3 1342.0,756.6 1342.7,756.7 1344.3,758.2 1345.0,758.9 1345.9,757.9 1347.5,755.2 1349.1,753.2 1350.0,752.5 1350.7,752.9 1352.3,755.1 1354.0,756.4 1355.5,755.0 1357.1,753.2 1358.0,752.4 1358.7,752.8 1360.3,756.7 1361.0,758.4 1361.9,760.4 1363.6,763.5 1365.1,762.6 1366.7,760.3 1368.0,758.5 1369.9,755.6 1371.5,753.1 1373.0,752.2 1374.7,751.6 1376.3,751.2 1378.0,750.9 1379.5,749.1 1381.1,748.4 1382.7,750.2 1384.3,750.8 1385.9,750.1 1387.5,749.9 1389.1,750.8 1390.0,750.9 1390.7,751.2 1392.3,751.4 1393.9,751.8 1395.5,752.2 1396.0,752.8 1397.1,753.5 1398.7,754.5 1400.3,756.1 1401.0,757.4 1401.9,756.0 1403.5,755.1 1405.1,755.4 1406.7,754.8 1408.3,754.8 1410.0,755.6 1411.5,755.6 1413.1,756.0 1414.7,756.6 1416.3,756.7 1418.0,756.4 1419.5,756.6 1421.1,756.6 1422.7,756.4 1424.3,756.3 1425.0,756.4 1425.9,756.0 1427.5,754.5 1429.1,753.2 1430.7,752.6 1432.0,752.6 1433.9,753.2 1435.5,754.2 1436.0,754.8 1437.1,754.4 1438.7,754.0 1440.3,753.5 1441.9,752.7 1443.5,751.8 1445.1,751.9 1446.0,752.0 1446.7,752.2 1448.3,752.8 1449.0,753.6 1450.0,752.8 1451.5,751.8 1453.1,751.0 1454.7,751.0 1456.3,752.1 1458.0,751.8 1459.5,751.8 1461.1,751.5 1462.7,750.6 1464.3,749.4 1466.0,748.9 1467.5,749.6 1469.1,750.5 1470.7,750.9 1472.0,751.4 1473.9,752.3 1475.5,751.9 1477.1,750.7 1478.7,750.9 1480.0,751.2 1481.9,750.6 1483.5,749.6 1485.1,748.9 1486.0,749.4 1486.7,749.8 1488.3,749.6 1489.9,749.2 1491.5,749.6 1493.1,750.1 1494.7,749.5 1496.0,749.2 1497.9,750.5 1499.5,752.4 1501.0,755.0 1502.7,761.1 1504.0,768.0 1505.9,782.1 1507.0,790.0 1509.1,800.7 1511.0,810.0 1512.3,817.2 1514.0,828.0 1515.5,840.9 1516.6,852.0 1519.0,880.0 1520.3,898.4 1521.0,910.0 1521.9,928.5 1522.4,940.0 1523.6,970.0 1524.8,982.4 1526.0,970.0 1526.7,953.7 1527.2,940.0 1528.4,910.0 1530.0,880.0 1531.5,856.7 1532.0,850.0 1533.1,836.8 1534.4,824.0 1536.3,810.3 1537.6,804.1 1539.5,798.2 1541.0,795.9 1542.7,795.4 1544.3,794.8 1546.0,794.7 1547.5,792.5 1549.1,789.5 1549.6,789.1 1550.7,789.2 1552.3,789.4 1553.9,789.1 1555.5,788.9 1556.0,789.2 1557.1,788.9 1558.7,788.4 1560.3,788.4 1561.9,788.8 1563.5,788.5 1565.1,788.1 1566.0,788.3 1566.7,788.1 1568.3,786.6 1569.9,784.8 1571.5,782.9 1573.1,781.0 1574.0,780.0 1574.7,779.6 1576.3,777.8 1577.9,775.8 1579.5,774.3 1581.1,773.0 1582.0,772.1 1582.7,771.2 1584.3,769.4 1585.9,767.8 1587.5,766.0 1589.1,764.4 1590.0,763.7 1590.7,763.3 1592.3,762.8 1593.9,762.4 1595.5,762.1 1596.0,762.0 1597.1,761.4 1598.7,760.4 1600.3,759.9 1601.9,759.5 1603.5,759.2 1604.0,759.6 1605.1,760.4 1606.7,761.1 1608.3,761.7 1610.0,761.9 1611.5,761.2 1613.1,760.0 1614.7,758.8 1616.3,757.7 1618.0,756.9 1619.5,756.8 1621.1,757.4 1622.7,757.8 1624.3,757.0 1626.0,757.1 1627.5,758.7 1629.1,761.4 1630.0,762.8 1630.7,764.1 1632.3,767.2 1633.0,767.8 1633.9,765.8 1635.5,758.2 1636.0,756.9 1637.1,755.6 1638.7,754.1 1640.3,752.8 1642.0,751.9 1643.5,751.3 1645.1,751.2 1646.7,751.1 1648.3,750.9 1650.0,750.2 1651.5,749.4 1653.1,749.3 1655.0,749.1 1656.3,749.4 1657.9,752.1 1659.5,755.2 1660.0,755.9 1661.1,757.6 1662.7,760.0 1664.3,762.6 1666.0,766.0 1667.5,771.0 1669.1,778.1 1670.0,782.1 1670.7,785.0 1672.3,792.1 1674.0,799.9 1675.5,807.1 1677.1,815.0 1678.0,820.0 1678.7,824.7 1680.3,836.7 1681.0,840.0 1681.9,842.3 1683.5,845.0 1684.0,845.7 1685.1,847.0 1686.7,848.7 1688.0,849.6 1689.9,849.4 1691.5,848.6 1693.1,848.2 1694.7,848.1 1696.0,848.3 1697.9,849.0 1699.5,850.0 1701.1,850.9 1703.0,851.7 1704.3,851.3 1705.9,849.2 1707.5,846.7 1708.0,845.9 1709.1,844.6 1710.7,842.6 1712.3,839.8 1713.0,838.1 1713.9,834.2 1715.5,824.5 1716.0,822.0 1717.1,817.3 1719.0,812.5 1720.3,813.1 1722.0,816.0 1723.6,840.0 1725.1,858.6 1725.6,862.1 1727.0,865.8 1728.3,860.6 1729.0,856.1 1729.9,848.4 1731.0,838.0 1733.0,824.0 1734.7,821.7 1736.0,820.8 1737.9,822.8 1739.5,825.4 1740.0,826.3 1741.1,826.9 1742.7,827.4 1744.3,827.8 1746.0,828.1 1747.5,828.8 1749.1,830.0 1750.7,830.7 1752.0,831.1 1753.9,831.7 1755.5,832.1 1757.1,831.8 1758.7,831.5 1760.0,831.7 1761.9,832.8 1763.5,834.0 1765.1,835.0 1766.0,835.1 1766.7,835.3 1768.3,836.0 1769.9,836.5 1771.5,837.4 1772.0,837.9 1773.1,842.0 1775.0,856.0 1776.3,870.2 1778.0,888.0 1779.5,894.4 1781.1,899.6 1782.0,904.0 1782.7,910.0 1784.4,930.0 1785.9,946.4 1786.4,950.0 1787.5,954.9 1788.0,955.7 1789.1,951.1 1790.0,946.1 1790.7,943.6 1792.3,939.0 1793.0,938.0 1793.9,937.6 1795.5,937.4 1797.0,936.1 1799.0,912.0 1800.3,897.2 1802.0,880.0 1803.5,867.1 1805.0,858.0 1806.7,852.5 1808.3,849.4 1809.0,848.9 1809.9,850.0 1811.5,855.6 1812.0,858.0 1813.1,868.8 1814.0,880.0 1814.7,888.0 1816.0,900.0 1818.0,906.1 1819.5,901.2 1820.4,896.0 1821.1,890.4 1823.0,870.0 1824.3,857.8 1826.0,843.9 1827.5,834.2 1829.0,828.1 1830.7,825.5 1832.3,823.9 1834.0,823.0 1835.5,823.3 1837.1,824.4 1839.0,824.9 1840.3,824.4 1841.9,824.0 1843.5,824.1 1844.0,824.2 1845.1,822.3 1846.7,816.0 1848.0,810.0 1849.9,800.2 1851.5,790.8 1852.0,788.0 1853.1,781.1 1854.7,771.2 1855.6,768.1 1856.3,766.6 1857.9,764.1 1858.4,763.9 1859.5,766.2 1861.0,774.0 1863.0,800.0 1864.3,826.1 1865.0,840.0 1865.9,855.9 1867.6,880.0 1869.1,889.8 1870.0,896.0 1870.7,903.8 1872.0,920.0 1873.6,931.9 1875.5,926.2 1876.0,923.9 1877.1,917.1 1879.0,903.9 1880.0,900.0 1881.9,894.9 1883.5,892.2 1884.0,891.9 1885.1,894.0 1887.0,904.0 1888.3,919.6 1889.0,930.0 1889.9,943.2 1891.0,960.0 1893.0,990.0 1894.7,1003.6 1896.0,1008.0 1897.9,1007.3 1899.5,1006.5 1900.0,1006.1 1901.1,1003.1 1902.7,994.3 1904.0,986.0 1905.9,970.6 1907.0,964.0 1909.1,958.3 1910.4,957.3 1912.3,959.9 1913.6,964.0 1915.5,980.8 1916.0,986.0 1917.1,998.7 1918.7,1017.5 1919.5,1023.0 1920.3,1025.8 1922.2,1030.0 1923.5,1031.7 1925.1,1033.3 1926.1,1033.6 1926.7,1033.1 1928.3,1028.1 1928.8,1025.5 1930.0,1000.0 1931.5,979.2 1932.4,970.1 1933.1,964.4 1934.7,954.5 1936.3,945.1 1937.0,940.0 1937.9,931.6 1939.5,914.6 1940.0,910.0 1941.1,900.9 1942.7,888.9 1944.0,880.0 1945.9,868.0 1947.5,858.7 1948.0,855.9 1949.1,849.2 1950.7,839.5 1952.0,834.0 1953.9,828.9 1955.5,826.3 1956.0,825.6 1957.1,826.7 1959.0,832.0 1960.3,847.0 1961.0,860.0 1961.9,886.2 1962.4,900.0 1963.5,922.2 1964.0,926.1 1965.1,921.8 1966.4,910.0 1968.0,880.0 1970.0,850.0 1971.5,837.6 1973.0,830.0 1974.7,825.3 1976.0,823.6 1977.9,824.2 1979.5,825.3 1981.0,826.0 1983.0,813.9 1984.3,811.6 1985.4,811.0 1987.5,822.2 1988.0,824.1 1989.1,825.8 1991.0,826.7 1992.3,826.4 1993.9,826.4 1995.0,826.0 1997.1,817.3 1998.0,813.9 1998.7,812.6 2000.3,810.3 2001.0,810.1 2001.9,810.7 2003.5,813.9 2005.0,815.8 2007.0,799.9 2008.3,796.5 2009.6,795.0 2011.5,805.8 2012.0,807.9 2013.1,810.2 2015.0,812.1 2016.3,803.9 2017.6,790.0 2019.5,770.7 2020.4,764.0 2021.1,760.8 2022.7,754.9 2024.0,752.0 2025.9,749.4 2027.5,748.1 2028.0,747.8 2029.1,749.3 2031.0,756.0 2032.3,770.3 2033.0,780.0 2033.9,792.0 2035.6,814.0 2037.1,830.1 2038.0,836.0 2038.7,838.1 2040.3,841.1 2042.0,844.0 2043.5,848.7 2045.1,854.5 2047.0,858.1 2048.3,856.7 2049.9,853.4 2051.0,852.0 2053.1,861.7 2054.0,866.0 2054.7,868.1 2056.4,871.3 2057.9,866.6 2059.0,860.0 2061.0,836.0 2063.0,808.0 2064.3,796.2 2066.0,784.0 2067.5,773.4 2069.0,766.0 2070.7,762.6 2072.3,760.6 2073.9,759.2 2075.0,758.0 2077.1,755.4 2078.7,753.6 2080.3,752.2 2082.0,751.1 2083.5,750.6 2085.1,750.1 2086.7,749.1 2088.3,748.8 2089.9,748.6 2091.5,748.4 2092.0,748.5 2093.1,748.6 2094.7,749.9 2096.3,751.7 2098.0,752.5 2099.5,750.3 2101.1,747.5 2102.0,746.5 2102.7,747.0 2104.3,749.1 2105.9,751.4 2107.0,752.0 2109.1,751.3 2110.7,750.9 2112.0,750.9 2113.9,751.5 2115.5,752.7 2117.1,754.2 2118.7,755.7 2120.0,756.9 2121.9,758.0 2123.5,758.8 2125.1,759.8 2126.7,760.6 2128.0,761.7 2129.9,765.0 2131.5,767.6 2132.0,767.9 2133.1,768.3 2134.7,768.6 2136.3,768.9 2137.9,769.4 2139.0,769.8 2141.1,773.8 2143.0,776.8 2144.3,777.2 2145.9,776.7 2147.5,776.3 2149.1,776.3 2150.0,776.2 2150.7,776.5 2152.3,777.5 2153.9,778.8 2155.5,779.5 2156.0,779.4 2157.1,779.5 2158.7,779.0 2160.3,778.2 2162.0,777.5 2163.5,777.6 2165.1,779.3 2166.7,781.6 2168.0,783.8 2169.9,788.4 2171.5,792.9 2172.0,794.1 2173.1,796.8 2174.7,800.9 2176.3,803.5 2177.0,803.8 2177.9,803.5 2179.5,802.8 2181.1,802.5 2182.0,802.5 2182.7,802.6 2184.3,802.3 2185.9,801.7 2187.5,801.4 2189.0,801.8 2190.7,803.6 2192.3,806.5 2194.0,808.0 2195.5,805.6 2197.1,800.1 2198.7,794.8 2200.0,792.9 2201.9,793.5 2203.5,793.5 2204.0,793.8 2205.1,793.6 2206.7,791.4 2208.3,788.5 2210.0,785.7 2211.5,784.3 2213.1,782.9 2214.7,781.3 2216.0,779.9 2217.9,776.5 2219.5,773.3 2221.0,772.0 2222.7,773.2 2224.3,774.8 2225.0,775.1 2225.9,774.4 2227.5,770.9 2229.0,768.6 2230.7,770.2 2232.3,774.0 2233.0,776.1 2233.9,782.6 2235.0,796.0 2237.0,830.0 2239.0,872.0 2240.6,898.1 2241.9,888.8 2242.4,884.0 2243.5,873.9 2245.0,860.0 2246.7,845.7 2248.0,836.0 2249.9,822.7 2251.0,817.9 2253.1,813.9 2254.6,813.1 2256.3,815.5 2258.0,820.1 2259.5,826.9 2261.0,832.2 2262.7,832.6 2264.0,832.9 2266.0,816.0 2267.5,806.7 2269.0,801.9 2270.7,804.5 2272.0,808.1 2274.0,818.0 2275.5,805.2 2276.0,800.0 2277.1,790.3 2279.0,776.0 2280.3,769.6 2282.0,763.8 2283.5,761.0 2284.0,761.2 2285.1,762.0 2286.7,764.6 2288.0,768.0 2290.0,784.0 2291.5,786.9 2293.0,788.1 2294.7,786.8 2296.3,785.3 2297.0,785.1 2297.9,786.9 2299.5,793.3 2300.0,793.7 2301.1,792.7 2303.0,787.9 2304.3,781.4 2305.0,778.0 2306.0,775.0"/>
<path stroke="#7030A0" d="M173.1,527.3 174.7,527.7 176.3,527.8 177.9,528.1 179.5,528.4 181.1,528.5 182.7,528.7 184.3,528.9 185.9,528.7 187.5,528.1 189.1,527.8 190.7,528.0 192.3,528.6 193.9,528.8 195.5,529.1 197.1,529.1 198.7,529.4 200.0,529.9 201.9,529.6 203.5,529.1 205.1,529.1 206.7,529.7 208.3,529.7 209.9,529.2 211.5,529.3 213.1,529.4 214.7,529.0 216.3,529.6 217.9,530.0 219.5,529.5 221.1,530.1 222.7,530.6 224.0,530.0 225.9,529.8 227.5,530.2 229.1,530.5 230.7,530.3 232.3,529.7 233.9,529.9 235.5,530.3 237.1,530.6 238.7,530.9 240.3,530.7 241.9,530.8 243.5,531.4 245.1,530.9 246.7,530.5 248.3,530.7 249.9,531.0 251.5,531.3 253.1,531.2 254.7,530.9 256.0,530.7 257.9,530.9 259.5,531.6 261.1,531.7 262.7,531.1 264.3,530.8 265.9,530.6 267.5,530.1 269.1,529.8 270.7,529.4 272.3,528.9 273.9,529.1 275.5,529.6 277.1,529.7 278.7,529.2 280.3,529.0 281.9,529.5 283.5,529.7 284.0,528.9 285.1,528.5 286.7,528.9 288.3,529.1 289.9,529.1 291.5,529.3 293.1,529.4 294.7,529.7 296.3,529.7 297.9,529.9 299.5,530.2 301.1,530.0 302.7,530.3 304.3,531.0 305.9,531.4 307.5,531.0 309.1,530.7 310.7,531.5 312.3,531.8 313.9,531.4 315.5,531.3 317.1,532.2 318.7,532.9 320.0,532.7 321.9,532.4 323.5,531.8 325.1,531.4 326.7,530.9 328.3,530.4 329.9,530.2 331.5,529.7 333.1,529.3 334.7,529.0 336.3,528.7 337.9,528.5 339.5,528.2 341.1,527.8 342.7,527.7 344.0,527.4 345.9,527.7 347.5,527.7 349.1,527.1 350.7,527.7 352.3,528.5 353.9,528.4 355.5,527.9 357.1,528.0 358.7,528.3 360.3,528.5 361.9,528.7 363.5,528.8 365.1,528.9 366.7,528.8 368.3,528.4 369.9,528.3 371.5,528.7 372.0,528.9 373.1,529.2 374.7,530.1 376.3,531.1 377.9,532.1 379.5,532.7 380.0,533.0 381.1,532.9 382.7,532.2 384.3,531.4 386.0,531.0 387.5,531.6 389.1,532.5 390.7,533.2 392.3,534.3 393.9,535.3 395.5,535.9 397.1,536.3 398.0,536.3 398.7,536.9 400.3,537.5 401.9,537.6 403.5,538.1 405.1,538.5 406.7,538.5 408.3,538.4 409.9,538.6 411.5,538.6 413.1,539.2 414.7,539.9 416.3,539.7 418.0,539.8 419.5,540.5 421.1,541.4 422.7,542.3 424.3,543.0 425.9,543.9 427.5,545.2 429.1,546.6 430.0,547.2 430.7,547.3 432.3,548.2 433.9,549.1 435.5,549.9 437.1,551.0 438.7,552.0 440.3,552.8 441.9,554.0 443.5,555.1 445.1,555.9 446.7,557.2 448.0,558.0 449.9,559.5 451.5,561.0 453.1,562.5 454.7,563.9 456.3,565.4 457.9,566.9 459.5,568.4 460.0,569.0 461.1,570.1 462.7,571.4 464.3,572.7 465.9,574.0 467.5,575.4 469.1,576.8 470.7,578.3 472.3,579.4 473.9,580.4 475.5,581.9 477.1,583.4 478.7,585.0 480.0,586.1 481.9,587.9 483.5,589.3 485.1,590.5 486.7,592.0 488.3,593.5 489.9,595.1 491.5,597.1 493.1,598.3 494.7,599.4 496.3,600.9 497.9,602.7 499.5,604.3 500.0,604.6 501.1,605.9 502.7,607.9 504.3,609.9 505.9,611.9 507.5,613.6 508.0,614.0 509.1,614.8 510.7,616.1 512.3,617.2 513.9,618.3 515.5,619.6 517.1,620.4 518.7,621.7 520.0,623.0 521.9,624.8 523.5,626.2 525.1,628.0 526.7,629.8 528.3,631.4 530.0,633.0 531.5,634.3 533.1,635.6 534.7,637.0 536.3,638.5 537.9,640.3 539.5,641.7 540.0,641.9 541.1,643.0 542.7,644.2 544.3,645.3 545.9,646.7 547.5,648.2 549.1,649.3 550.0,649.8 550.7,650.5 552.3,651.5 553.9,652.3 555.5,653.2 557.1,654.5 558.7,655.4 560.0,655.8 561.9,656.9 563.5,657.8 565.1,658.7 566.7,659.5 568.3,660.7 570.0,661.4 571.5,661.8 573.1,662.3 574.7,663.1 576.3,663.2 577.9,663.1 579.5,663.9 580.0,664.0 581.1,664.0 582.7,664.5 584.3,665.0 585.9,665.8 587.5,666.2 589.1,666.2 590.7,666.9 592.3,667.0 594.0,666.4 595.5,667.2 597.1,667.6 598.7,667.7 600.0,667.7 601.9,667.0 603.5,666.7 605.1,666.8 606.7,666.8 608.3,666.4 610.0,665.8 611.5,665.7 613.1,665.0 614.7,663.8 616.0,663.4 617.9,664.3 619.5,665.5 620.0,665.9 621.1,665.9 622.7,665.3 624.3,664.8 625.9,664.3 627.5,663.3 629.1,662.6 630.7,662.1 632.3,661.3 634.0,660.2 635.5,659.4 637.1,658.0 638.7,656.3 640.3,654.7 641.9,653.2 643.5,651.7 645.1,650.4 646.0,650.0 646.7,649.9 648.3,649.2 649.9,648.6 651.5,648.4 653.1,648.2 654.7,647.1 656.0,645.8 657.9,643.8 659.5,641.4 661.1,638.9 662.0,637.9 662.7,637.7 664.3,636.5 665.9,635.3 667.5,634.3 669.1,633.5 670.7,632.5 672.3,631.3 674.0,629.9 675.5,628.5 677.1,627.1 678.7,625.5 680.3,623.9 681.9,622.2 683.5,620.5 685.1,618.9 686.0,617.9 686.7,617.3 688.3,615.9 689.9,614.2 691.5,612.4 693.1,610.9 694.7,609.2 696.3,607.6 698.0,605.9 699.5,604.5 701.1,603.4 702.7,602.3 704.3,601.0 705.9,599.6 707.5,598.4 708.0,597.9 709.1,596.8 710.7,595.5 712.3,594.3 713.9,593.1 715.5,592.0 717.1,590.7 718.7,589.3 720.0,588.0 721.9,586.2 723.5,584.8 725.1,583.9 726.7,583.0 728.3,581.7 729.9,580.2 731.5,579.3 732.0,579.1 733.1,578.2 734.7,577.2 736.3,576.3 737.9,575.6 739.5,574.8 741.1,573.9 742.7,573.1 744.3,572.4 746.0,571.6 747.5,570.7 749.1,570.9 750.7,570.7 752.3,569.8 753.9,569.6 755.5,569.7 756.0,569.3 757.1,569.3 758.7,569.7 760.3,570.0 761.9,569.8 763.5,570.2 765.1,570.4 766.0,570.0 766.7,570.4 768.3,570.6 769.9,569.9 771.5,569.5 773.1,569.4 774.0,569.0 774.7,569.4 776.3,572.2 778.0,575.2 779.5,576.6 781.1,578.1 782.7,579.7 784.3,581.6 786.0,584.1 787.5,588.5 789.1,595.7 790.0,599.9 790.7,603.6 792.3,612.8 793.0,616.1 793.9,619.4 795.5,624.5 797.0,628.0 798.7,630.7 800.3,632.7 802.0,634.0 803.5,634.6 805.0,635.6 806.7,634.7 808.3,633.5 809.0,633.2 809.9,633.5 811.5,634.7 813.1,635.7 814.0,635.6 814.7,635.9 816.3,635.7 817.9,634.8 819.5,633.6 820.0,633.1 821.1,631.7 822.7,628.8 824.0,625.8 825.9,618.2 827.0,614.0 829.1,608.7 830.7,605.6 832.0,603.9 833.9,602.5 835.5,601.4 837.1,600.4 838.0,600.1 838.7,599.6 840.3,598.4 841.9,597.6 843.5,596.9 845.1,596.2 846.0,595.8 846.7,595.3 848.3,594.7 849.9,595.1 851.5,595.1 853.1,594.5 854.0,593.9 854.7,593.8 856.3,592.7 857.9,590.8 859.5,588.4 861.1,586.0 862.7,584.2 864.0,583.2 865.9,581.9 867.5,581.0 869.1,580.1 870.7,579.0 872.0,577.9 873.9,576.4 875.5,574.9 877.1,573.5 878.7,571.9 880.0,570.8 881.9,569.8 883.5,569.0 885.1,568.2 886.7,567.7 888.3,567.1 889.9,566.3 891.5,565.6 893.1,565.3 894.0,565.5 894.7,565.1 896.3,564.4 897.9,564.2 899.5,563.7 901.1,563.7 902.7,563.6 904.3,563.1 905.9,562.7 907.5,562.8 909.1,562.7 910.0,562.5 910.7,562.2 912.3,561.6 913.9,561.4 915.5,561.2 917.1,561.0 918.7,560.6 920.3,560.3 921.9,560.1 923.5,560.0 925.1,560.0 926.7,559.9 928.3,559.7 930.0,559.5 931.5,559.6 933.1,559.1 934.7,558.6 936.3,558.6 937.9,558.3 939.5,558.1 941.1,557.9 942.7,557.6 944.3,557.7 945.9,557.2 947.5,557.2 949.1,557.9 950.0,558.1 950.7,557.5 952.3,556.9 953.9,557.0 955.5,557.1 957.1,557.2 958.7,557.5 960.3,557.9 961.9,558.1 963.5,557.8 965.1,557.5 966.7,557.7 968.3,558.1 970.0,558.1 971.5,557.7 973.1,557.3 974.7,556.9 976.3,556.5 977.9,556.3 979.5,555.8 981.1,555.5 982.7,555.0 984.3,554.3 985.9,553.7 987.5,553.2 989.1,553.0 990.0,553.1 990.7,553.2 992.3,552.9 993.9,553.1 995.5,553.1 997.1,552.6 998.7,552.0 1000.0,551.9 1001.9,551.7 1003.5,551.0 1005.1,550.1 1006.7,549.6 1008.3,548.9 1010.0,548.4 1011.5,548.4 1013.1,548.0 1014.7,547.8 1016.3,548.3 1017.9,548.6 1019.5,548.9 1020.0,548.8 1021.1,548.3 1022.7,547.9 1024.3,547.7 1026.0,547.5 1027.5,547.1 1029.1,546.8 1030.7,546.8 1032.3,547.1 1033.9,547.8 1035.5,547.4 1037.1,546.4 1038.7,546.4 1040.0,546.9 1041.9,547.0 1043.5,547.0 1045.1,546.7 1046.7,546.1 1048.3,545.7 1049.9,545.7 1051.5,546.2 1053.1,546.6 1054.0,546.8 1054.7,547.0 1056.3,546.2 1057.9,546.1 1059.5,546.5 1061.1,546.3 1062.7,545.3 1064.3,545.0 1065.9,544.6 1067.5,543.9 1069.1,544.1 1070.0,544.1 1070.7,544.0 1072.3,544.1 1073.9,543.7 1075.5,543.5 1077.1,543.7 1079.0,543.5 1080.0,544.4 1081.9,543.7 1083.5,543.5 1085.1,543.1 1086.7,542.6 1088.0,542.7 1089.9,542.7 1091.5,542.2 1093.1,542.2 1094.7,542.3 1096.3,542.5 1097.9,542.5 1099.5,542.6 1100.0,542.3 1101.1,541.8 1102.7,542.2 1104.3,542.7 1105.9,543.3 1107.5,543.9 1109.1,543.9 1110.0,543.6 1110.7,543.2 1112.3,543.2 1113.9,542.9 1115.5,541.9 1117.1,541.0 1118.7,540.4 1120.0,540.6 1121.9,541.2 1123.5,540.8 1125.1,541.0 1126.7,541.6 1128.3,541.6 1130.0,541.7 1131.5,542.7 1133.1,545.0 1135.0,547.9 1136.3,550.1 1137.9,553.2 1139.5,554.8 1140.0,554.9 1141.1,555.5 1142.7,555.7 1144.3,555.3 1145.0,555.2 1145.9,554.6 1147.5,552.8 1149.1,550.9 1150.0,551.1 1150.7,551.6 1152.3,551.9 1153.9,552.6 1155.5,552.9 1156.0,553.2 1157.1,553.2 1158.7,552.5 1160.3,552.0 1161.0,551.6 1161.9,552.0 1163.5,553.3 1165.1,554.7 1166.4,555.5 1168.3,554.3 1169.9,552.3 1171.5,550.8 1172.0,550.3 1173.1,549.5 1174.7,548.8 1176.3,548.4 1178.0,548.1 1179.5,547.5 1181.1,546.2 1182.7,544.7 1184.0,544.1 1185.9,544.2 1187.5,543.8 1189.1,543.9 1190.0,543.8 1190.7,544.2 1192.3,543.4 1193.9,541.7 1195.5,540.1 1197.1,539.3 1198.0,539.3 1198.7,539.5 1200.3,539.9 1201.9,539.2 1203.5,539.0 1205.1,540.0 1206.7,540.3 1208.0,539.2 1209.9,537.1 1211.5,535.1 1212.0,535.2 1213.1,535.8 1214.7,538.0 1216.3,539.9 1217.0,540.1 1217.9,540.2 1219.5,539.8 1221.1,539.2 1222.7,538.6 1224.0,538.2 1225.9,538.2 1227.5,538.8 1229.1,539.6 1231.0,539.9 1232.3,539.3 1233.9,538.0 1235.5,537.3 1236.0,537.2 1237.1,536.8 1238.7,536.8 1240.3,536.9 1242.0,537.0 1243.5,537.3 1245.1,538.1 1247.0,538.8 1248.3,537.7 1249.9,535.3 1251.0,534.8 1253.1,535.3 1254.7,535.9 1256.3,537.0 1258.0,537.9 1259.5,536.9 1261.1,534.7 1262.7,532.4 1264.0,531.1 1265.9,529.8 1267.5,528.8 1269.1,528.9 1270.0,529.6 1270.7,529.3 1272.3,529.7 1273.9,530.7 1275.5,531.1 1277.0,531.2 1278.7,531.5 1280.3,532.2 1281.9,532.8 1283.0,532.6 1285.1,533.2 1286.7,534.8 1288.3,536.3 1289.9,537.7 1291.5,538.2 1292.0,537.9 1293.1,537.4 1294.7,534.9 1296.0,533.3 1297.9,534.8 1299.5,536.7 1301.1,537.8 1302.7,538.5 1304.0,539.8 1305.9,539.5 1307.5,538.1 1309.1,537.4 1310.0,536.4 1310.7,535.2 1312.3,535.7 1313.9,536.5 1315.5,535.6 1317.0,534.7 1318.7,536.5 1320.3,538.5 1321.0,538.1 1321.9,538.2 1323.5,538.4 1325.1,537.9 1326.7,536.6 1328.0,535.8 1329.9,534.1 1331.5,531.7 1333.1,529.8 1334.0,529.4 1334.7,529.9 1336.3,531.8 1337.9,534.4 1339.0,535.0 1341.1,534.3 1342.7,533.0 1344.3,531.5 1345.9,530.5 1347.0,530.7 1349.1,531.0 1350.7,531.8 1352.3,532.9 1353.0,532.9 1353.9,532.5 1355.5,532.7 1357.1,532.0 1358.7,532.2 1360.0,532.2 1361.9,534.0 1363.5,536.9 1365.0,538.1 1366.7,537.1 1368.3,534.4 1370.0,532.0 1371.5,530.8 1373.1,529.3 1374.7,527.9 1376.3,527.3 1377.0,526.1 1377.9,526.7 1379.5,528.6 1381.0,528.6 1382.7,528.3 1384.3,527.2 1385.0,526.4 1385.9,527.0 1387.5,528.6 1389.1,529.9 1390.7,530.6 1392.0,531.4 1393.9,532.0 1395.5,532.1 1397.1,531.8 1398.7,531.4 1400.3,531.7 1402.0,532.9 1403.5,532.8 1405.1,532.0 1406.7,531.8 1408.0,532.2 1409.9,532.4 1411.5,532.2 1413.1,532.5 1414.7,533.3 1416.3,533.2 1417.0,533.0 1417.9,534.3 1419.5,534.5 1421.1,533.5 1422.7,532.5 1424.3,531.9 1425.9,531.3 1427.5,530.8 1429.1,530.3 1430.0,530.2 1430.7,530.4 1432.3,530.9 1433.9,531.3 1435.5,531.3 1437.1,531.1 1438.7,531.4 1440.0,531.0 1441.9,530.6 1443.5,529.9 1445.1,528.8 1446.0,528.4 1446.7,528.2 1448.3,529.3 1449.0,530.2 1450.0,531.2 1451.5,530.3 1453.1,530.4 1454.7,531.3 1456.3,531.3 1457.9,530.7 1459.5,529.9 1460.0,530.4 1461.1,529.8 1462.7,528.4 1464.3,527.9 1466.0,528.3 1467.5,528.1 1469.1,528.2 1470.7,529.0 1472.0,530.2 1473.9,529.9 1475.5,529.3 1477.1,529.2 1478.7,528.9 1480.0,528.7 1481.9,528.7 1483.5,528.1 1485.1,527.3 1486.0,527.6 1486.7,527.4 1488.3,527.7 1489.9,528.3 1491.5,528.7 1493.1,528.3 1494.7,526.8 1496.0,526.5 1497.9,528.4 1499.5,531.1 1501.0,534.0 1502.7,539.6 1504.0,545.9 1505.9,558.6 1507.0,566.0 1509.1,576.7 1511.0,586.0 1512.3,593.2 1514.0,604.1 1515.5,617.9 1516.6,630.0 1519.0,660.0 1520.4,690.0 1521.6,720.0 1522.8,760.0 1523.5,784.9 1524.0,794.0 1525.2,760.0 1526.4,720.0 1527.6,690.0 1528.3,674.1 1529.0,660.0 1529.9,645.3 1531.0,630.0 1533.1,604.6 1533.6,600.1 1534.7,591.5 1536.4,581.9 1537.9,576.8 1539.5,573.4 1540.0,573.3 1541.1,572.8 1542.7,572.4 1544.3,571.7 1545.0,571.7 1545.9,571.1 1547.5,568.6 1549.0,567.3 1550.7,567.4 1552.3,567.4 1554.0,566.9 1555.5,566.9 1557.1,568.1 1558.7,568.8 1560.3,568.1 1561.9,567.3 1563.5,566.9 1564.0,566.5 1565.1,566.4 1566.7,565.8 1568.3,564.5 1569.9,562.7 1571.5,560.8 1573.1,558.7 1574.0,557.8 1574.7,557.2 1576.3,555.9 1577.9,554.3 1579.5,552.5 1581.1,550.8 1582.0,550.1 1582.7,549.3 1584.3,547.5 1585.9,545.8 1587.5,543.8 1589.1,542.0 1590.0,541.0 1590.7,540.2 1592.3,539.2 1593.9,538.5 1595.5,537.5 1596.0,537.1 1597.1,536.5 1598.7,535.9 1600.3,535.4 1601.9,535.2 1603.5,535.5 1604.0,535.3 1605.1,535.2 1606.7,535.4 1608.3,535.2 1609.9,534.9 1611.5,534.3 1613.1,534.6 1614.0,535.0 1614.7,534.9 1616.3,535.3 1617.9,535.8 1619.5,536.3 1620.0,536.4 1621.1,535.7 1622.7,534.4 1624.3,533.3 1626.0,532.9 1627.5,534.2 1629.1,536.3 1630.0,537.3 1630.7,537.2 1632.3,535.6 1633.9,533.5 1635.5,531.3 1637.0,529.8 1638.7,529.0 1640.3,528.4 1641.9,527.6 1643.5,526.7 1644.0,526.5 1645.1,526.8 1646.7,527.0 1648.3,526.8 1650.0,526.7 1651.5,526.8 1653.1,526.3 1654.0,526.0 1654.7,526.3 1656.3,528.0 1657.9,530.4 1659.0,532.0 1661.1,535.8 1663.0,540.0 1664.3,542.8 1665.9,546.4 1667.5,550.5 1668.0,551.9 1669.1,555.8 1670.7,562.5 1672.0,568.0 1673.9,575.5 1675.5,581.9 1676.0,584.0 1677.1,588.9 1678.7,596.5 1680.0,601.9 1681.9,608.6 1683.0,611.1 1685.1,614.5 1687.0,616.1 1688.3,615.5 1689.9,615.0 1691.5,614.9 1693.1,614.9 1694.7,614.4 1696.0,613.9 1697.9,614.7 1699.5,615.9 1701.1,617.0 1703.0,617.6 1704.3,617.0 1705.9,615.0 1707.5,612.7 1708.0,612.1 1709.1,610.7 1710.7,608.6 1712.3,605.7 1713.0,603.9 1713.9,598.9 1715.0,592.0 1717.1,584.9 1719.0,582.2 1720.3,583.8 1721.6,588.1 1723.6,612.0 1725.1,632.5 1725.6,635.0 1726.7,633.8 1728.0,630.0 1729.6,611.9 1731.5,597.9 1732.0,596.0 1733.1,593.1 1735.0,590.9 1736.3,591.8 1737.9,593.5 1739.5,595.4 1740.0,596.2 1741.1,597.4 1742.7,598.3 1744.3,599.1 1745.9,600.0 1747.0,600.2 1749.1,599.8 1750.7,599.0 1752.3,598.5 1753.0,598.3 1753.9,597.8 1755.5,597.8 1757.1,597.5 1758.7,597.3 1760.0,597.0 1761.9,596.9 1763.5,597.1 1765.1,597.9 1766.0,598.5 1766.7,598.7 1768.3,599.9 1769.9,601.5 1771.0,602.9 1773.1,612.3 1774.0,618.0 1774.7,623.3 1776.3,638.3 1777.0,644.0 1777.9,649.8 1779.5,658.6 1781.0,668.0 1782.7,682.9 1783.6,692.0 1784.3,700.1 1786.0,720.0 1787.5,732.6 1788.0,733.7 1789.1,729.8 1790.0,724.0 1790.7,718.6 1792.0,710.0 1793.9,708.4 1795.5,707.6 1797.0,705.9 1799.0,680.0 1800.3,663.3 1802.0,644.0 1803.5,631.0 1805.0,622.0 1806.7,616.2 1808.6,613.4 1809.9,614.6 1811.6,620.0 1813.1,634.9 1814.0,646.0 1814.7,653.9 1816.0,666.0 1817.6,671.4 1819.5,661.7 1820.0,658.0 1821.1,647.0 1822.4,632.0 1824.3,613.3 1825.0,607.9 1825.9,602.2 1827.5,593.5 1829.0,588.8 1830.7,586.9 1832.3,585.9 1834.0,585.9 1835.5,585.9 1837.1,586.8 1839.0,587.6 1840.3,587.0 1841.9,586.5 1843.0,586.4 1845.1,582.4 1847.0,576.0 1848.3,570.2 1849.9,560.6 1851.0,554.0 1853.1,540.1 1854.4,534.0 1856.3,529.6 1858.0,528.1 1859.5,530.7 1861.0,537.0 1863.0,560.0 1864.3,576.5 1865.6,594.0 1867.5,621.0 1868.0,628.0 1869.1,643.6 1870.6,664.0 1872.3,688.1 1873.0,692.1 1873.9,690.4 1875.5,682.6 1876.0,680.1 1877.1,673.6 1879.0,662.0 1880.0,657.9 1881.9,654.1 1883.5,652.4 1884.0,652.1 1885.1,654.1 1887.0,664.0 1888.3,679.6 1889.0,690.0 1889.9,703.4 1891.0,720.0 1893.0,746.0 1894.7,756.7 1896.0,760.1 1897.9,759.8 1899.5,758.6 1900.0,758.0 1901.1,755.3 1902.7,747.3 1904.0,740.0 1905.9,727.3 1907.0,722.0 1909.1,717.8 1910.0,717.4 1910.7,717.4 1912.3,720.2 1913.0,721.9 1913.9,727.0 1915.5,744.1 1916.0,750.0 1917.1,768.8 1918.0,780.0 1918.7,782.4 1920.3,785.4 1921.0,785.9 1921.9,786.8 1923.5,788.3 1925.1,788.9 1926.0,789.0 1926.7,787.6 1928.3,776.2 1929.0,770.0 1929.9,759.3 1931.5,735.5 1932.0,730.0 1933.1,721.5 1934.7,711.9 1936.0,704.0 1937.9,690.7 1939.5,679.3 1940.0,676.0 1941.1,669.1 1942.7,659.5 1944.0,652.0 1945.9,641.1 1947.5,632.5 1948.0,630.1 1949.1,624.6 1950.7,616.9 1952.0,612.1 1953.9,606.2 1955.5,603.2 1956.0,602.8 1957.1,603.6 1958.7,606.9 1959.6,610.0 1960.3,621.4 1961.0,640.0 1961.9,667.5 1962.4,680.0 1963.5,697.3 1964.0,700.1 1965.1,694.2 1966.4,680.0 1968.3,651.1 1969.0,640.0 1969.9,626.4 1971.0,612.0 1973.0,596.0 1974.7,593.8 1976.3,592.5 1977.0,592.4 1977.9,593.4 1979.5,594.3 1980.0,594.1 1981.1,588.9 1982.0,584.0 1982.7,582.4 1984.4,580.2 1985.9,584.8 1987.0,589.9 1989.0,595.8 1990.7,595.4 1992.3,594.2 1994.0,592.8 1995.5,589.0 1997.0,584.2 1998.7,580.6 2000.0,579.2 2001.9,582.3 2003.5,585.7 2004.0,585.8 2005.1,581.3 2006.0,576.0 2006.7,573.1 2008.3,567.7 2009.0,566.8 2009.9,568.6 2011.5,575.8 2013.0,580.0 2014.7,580.5 2016.0,580.0 2017.6,560.0 2019.5,542.8 2020.0,540.0 2021.1,535.4 2022.7,530.4 2024.0,527.8 2025.9,525.6 2027.6,525.0 2029.1,528.0 2030.4,534.0 2032.4,560.0 2033.9,578.6 2035.0,590.0 2037.1,605.8 2038.0,609.9 2038.7,611.9 2040.3,614.9 2042.0,617.9 2043.5,622.4 2045.1,627.1 2046.0,628.0 2046.7,627.9 2048.3,627.6 2050.0,626.9 2051.5,633.4 2053.0,640.1 2054.7,635.8 2056.0,629.9 2057.9,619.1 2059.5,607.7 2060.0,604.0 2061.1,595.4 2063.0,580.0 2064.3,569.9 2066.0,558.1 2067.5,549.7 2069.1,542.5 2070.0,540.1 2070.7,539.0 2072.3,536.8 2073.9,535.2 2075.0,534.2 2077.1,531.6 2078.7,529.6 2080.3,528.1 2082.0,526.9 2083.5,526.4 2085.1,526.6 2086.7,526.4 2088.3,526.1 2090.0,525.8 2091.5,525.4 2093.1,525.5 2094.7,525.1 2096.3,524.1 2098.0,523.5 2099.5,523.0 2101.1,522.2 2102.0,522.5 2102.7,523.0 2104.3,524.2 2106.0,525.4 2107.5,525.4 2109.1,525.1 2110.7,525.0 2112.3,524.9 2113.9,524.9 2115.5,525.2 2116.0,524.7 2117.1,524.7 2118.7,525.4 2120.3,526.0 2121.9,527.0 2123.5,527.9 2125.1,528.5 2126.0,528.6 2126.7,529.2 2128.3,530.2 2129.9,531.1 2131.5,531.9 2133.1,532.5 2134.0,532.8 2134.7,533.3 2136.3,533.5 2137.9,533.6 2139.0,534.1 2141.1,540.5 2142.0,542.3 2142.7,542.5 2144.3,542.4 2145.9,541.6 2147.5,541.4 2149.0,541.1 2150.7,539.8 2152.3,538.1 2154.0,536.9 2155.5,536.6 2157.1,536.3 2158.7,536.0 2160.3,535.8 2162.0,536.0 2163.5,537.6 2165.1,540.7 2166.0,542.1 2166.7,543.1 2168.3,545.1 2170.0,547.0 2171.5,549.5 2173.1,552.5 2174.7,555.1 2176.0,556.3 2177.9,557.0 2179.5,556.9 2181.1,557.2 2182.0,557.2 2182.7,557.1 2184.3,556.0 2185.9,555.1 2187.5,555.0 2188.0,555.0 2189.1,555.3 2190.7,558.3 2192.0,559.6 2193.9,558.8 2195.5,557.0 2197.1,555.1 2198.0,554.6 2198.7,554.9 2200.3,554.5 2201.9,553.9 2203.5,553.6 2204.0,553.9 2205.1,551.6 2207.0,545.1 2208.3,543.3 2209.9,541.6 2211.5,540.0 2213.0,538.1 2214.7,533.2 2216.0,530.0 2217.9,528.5 2219.5,527.9 2221.1,526.7 2222.0,525.7 2222.7,525.2 2224.3,523.2 2225.9,520.7 2227.5,518.5 2228.0,518.0 2229.1,516.6 2230.7,514.6 2232.0,513.9 2233.9,518.1 2235.0,524.0 2236.4,560.0 2237.1,578.4 2238.0,600.0 2238.7,615.6 2240.0,634.0 2241.9,626.9 2243.0,620.0 2245.1,602.6 2246.0,596.0 2246.7,592.0 2248.3,583.8 2250.0,577.9 2251.5,574.5 2253.1,572.0 2253.6,571.6 2254.7,572.2 2256.3,574.7 2258.0,578.0 2259.5,584.7 2261.1,593.6 2262.0,595.8 2262.7,595.9 2264.3,596.7 2265.0,597.0 2265.9,592.0 2267.5,574.6 2268.0,571.9 2269.1,569.7 2271.0,567.6 2272.3,567.0 2273.9,567.0 2275.0,566.1 2277.1,542.4 2278.0,534.0 2278.7,531.4 2280.3,527.5 2281.0,527.2 2281.9,527.6 2283.5,531.2 2285.1,535.8 2286.0,538.0 2286.7,539.9 2288.0,542.1 2289.9,532.3 2291.0,528.1 2293.1,531.1 2294.0,533.9 2294.7,540.3 2296.0,556.0 2297.9,565.9 2299.0,568.3 2301.0,560.0 2303.0,534.1 2304.3,531.2 2305.0,530.2 2305.9,529.3 2307.5,528.2 2308.0,528.2"/>
<path stroke="#BF9000" d="M173.1,306.6 174.7,306.2 176.3,305.9 177.9,305.4 179.5,304.9 181.1,305.0 182.7,305.0 184.3,305.1 185.9,305.3 187.5,305.5 189.1,305.3 190.7,304.9 192.3,304.8 193.9,305.1 195.5,305.2 197.1,305.4 198.7,305.5 200.0,305.4 201.9,304.7 203.5,304.1 205.1,304.5 206.7,305.4 208.3,305.9 209.9,305.8 211.5,305.2 213.1,305.1 214.7,305.8 216.3,306.0 217.9,305.8 219.5,305.6 221.1,305.4 222.7,306.0 224.3,306.4 225.9,306.1 227.5,306.1 229.1,306.3 230.7,306.2 232.3,306.0 233.9,306.3 235.5,306.6 237.1,306.7 238.7,306.9 240.3,307.0 241.9,307.1 243.5,307.7 245.1,307.7 246.7,308.1 248.3,308.2 250.0,307.5 251.5,306.6 253.1,306.1 254.7,306.4 256.3,306.9 257.9,307.0 259.5,306.6 261.1,306.9 262.7,307.5 264.3,306.8 265.9,306.0 267.5,306.0 269.1,305.4 270.7,304.9 272.3,305.2 273.9,305.3 275.5,305.5 277.1,305.9 278.7,305.3 280.3,305.0 281.9,305.1 283.5,304.2 284.0,304.4 285.1,305.6 286.7,305.8 288.3,305.1 289.9,305.0 291.5,305.5 293.1,305.8 294.7,305.8 296.3,305.7 297.9,305.7 299.5,306.1 301.1,306.5 302.7,306.8 304.3,307.0 305.9,307.2 307.5,307.4 309.1,308.3 310.7,308.8 312.3,308.3 313.9,308.1 315.5,308.8 317.1,309.1 318.7,309.1 320.0,309.2 321.9,308.7 323.5,308.6 325.1,308.8 326.7,308.3 328.3,307.5 329.9,306.9 331.5,306.9 333.1,306.7 334.7,306.6 336.3,306.5 337.9,305.9 339.5,305.4 341.1,305.6 342.7,305.5 344.3,305.3 346.0,305.1 347.5,304.8 349.1,304.3 350.7,304.2 352.3,304.6 353.9,304.9 355.5,304.8 357.1,304.3 358.7,304.8 360.3,305.5 361.9,306.0 363.5,305.9 365.1,305.9 366.7,306.3 368.3,306.3 370.0,305.7 371.5,306.0 373.1,306.8 374.7,307.1 376.3,307.2 377.9,307.4 379.5,306.9 381.1,307.1 382.7,307.4 384.3,307.6 386.0,307.8 387.5,308.5 389.1,309.5 390.7,309.9 392.3,310.5 393.9,311.4 395.5,312.2 397.1,312.8 398.7,312.7 400.0,312.2 401.9,312.1 403.5,312.3 405.1,312.7 406.7,313.7 408.3,313.8 409.9,313.8 411.5,313.7 413.1,313.6 414.7,313.4 416.3,313.5 418.0,314.2 419.5,314.5 421.1,315.2 422.7,315.4 424.3,315.7 425.9,316.5 427.5,317.5 429.1,318.5 430.7,319.6 432.3,320.7 433.9,321.8 435.5,322.9 437.1,324.1 438.7,325.1 440.0,325.9 441.9,327.1 443.5,328.1 445.1,329.1 446.7,330.2 448.3,331.2 449.9,332.1 451.5,333.4 453.1,334.5 454.7,335.5 456.3,336.4 457.9,337.5 459.5,338.6 460.0,338.9 461.1,339.5 462.7,340.8 464.3,342.0 465.9,342.7 467.5,344.0 469.1,345.3 470.7,346.4 472.3,347.4 473.9,348.0 475.5,349.1 477.1,350.5 478.7,351.7 480.0,352.8 481.9,354.3 483.5,355.4 485.1,356.6 486.7,357.9 488.3,359.1 489.9,360.6 491.5,361.8 493.1,363.2 494.7,364.5 496.3,366.1 498.0,368.0 499.5,370.2 500.0,371.1 501.1,372.5 502.7,374.1 504.3,375.5 505.9,377.0 507.5,378.3 509.1,379.1 510.0,379.4 510.7,380.3 512.3,381.7 513.9,382.3 515.5,383.1 517.1,384.5 518.7,385.7 520.0,386.5 521.9,388.1 523.5,389.5 525.1,390.6 526.7,392.0 528.3,393.6 529.9,394.6 531.5,395.7 533.1,397.0 534.7,398.3 536.0,399.0 537.9,399.9 539.5,401.0 541.1,402.2 542.7,402.7 544.3,403.4 545.9,404.5 547.5,405.3 549.1,405.8 550.7,406.4 552.0,406.9 553.9,407.6 555.5,408.1 557.1,409.1 558.7,409.8 560.3,410.3 561.9,410.4 563.5,410.5 565.1,411.1 566.0,411.9 566.7,412.5 568.3,412.9 569.9,413.5 571.5,413.8 573.1,414.0 574.7,414.6 576.3,415.3 577.9,415.7 579.5,415.7 580.0,415.9 581.1,416.3 582.7,416.8 584.3,417.0 585.9,416.5 587.5,416.4 589.1,416.8 590.7,417.8 592.3,417.6 594.0,417.3 595.5,418.1 597.1,417.8 598.7,417.5 600.3,417.7 601.9,417.4 603.5,416.7 605.1,416.9 606.7,417.4 608.0,417.2 609.9,416.5 611.5,415.7 613.1,414.5 614.7,413.5 616.0,413.5 617.9,414.0 619.5,413.9 621.1,413.6 622.7,413.9 624.3,414.2 625.9,413.5 627.5,413.4 628.0,413.9 629.1,413.0 630.7,412.1 632.3,411.3 633.9,410.1 635.5,409.0 637.1,408.1 638.7,407.1 640.0,406.1 641.9,405.1 643.5,404.1 645.1,403.5 646.7,403.1 648.3,402.7 649.9,402.1 651.5,401.0 653.1,399.9 654.7,398.9 656.0,398.0 657.9,396.2 659.5,394.1 661.1,392.1 662.0,391.1 662.7,390.6 664.3,389.3 665.9,388.0 667.5,386.9 669.1,385.8 670.7,384.6 672.3,383.4 673.9,382.1 675.5,381.0 676.0,380.9 677.1,380.3 678.7,379.0 680.3,377.6 681.9,376.2 683.5,375.0 685.1,373.6 686.7,372.3 688.3,371.3 690.0,370.2 691.5,368.9 693.1,367.5 694.7,366.6 696.3,365.6 697.9,364.5 699.5,363.7 701.1,362.9 702.7,361.9 704.0,360.9 705.9,359.8 707.5,359.0 709.1,358.1 710.7,357.0 712.3,356.3 713.9,355.7 715.5,354.4 717.1,353.4 718.7,352.9 720.0,352.1 721.9,350.7 723.5,349.8 725.1,348.9 726.7,348.3 728.3,347.9 729.9,347.0 731.5,345.8 733.1,345.1 734.0,345.3 734.7,344.9 736.3,344.0 737.9,343.4 739.5,342.5 741.1,341.6 742.0,341.5 742.7,341.5 744.3,340.5 745.9,339.7 747.5,339.4 748.0,339.0 749.1,338.6 750.7,338.4 752.3,338.6 753.9,339.1 755.5,339.5 757.0,339.4 758.7,340.2 760.3,341.1 761.0,340.6 761.9,340.2 763.5,340.1 765.1,340.1 766.7,340.4 768.0,340.7 769.9,340.9 771.5,340.7 773.0,340.2 774.7,340.9 776.3,343.2 777.9,345.8 779.0,347.0 781.1,348.3 782.7,349.2 784.3,350.4 786.0,352.1 787.5,355.4 789.1,360.9 790.0,364.0 790.7,366.4 792.3,372.2 794.0,377.9 795.5,382.7 797.1,387.4 798.0,389.2 798.7,390.2 800.3,392.0 801.9,393.6 803.5,395.1 804.0,395.0 805.1,394.3 806.7,393.5 808.3,392.6 810.0,392.1 811.5,392.5 813.1,393.2 814.7,393.4 816.0,393.4 817.9,393.0 819.5,391.6 821.0,390.0 822.7,386.8 824.3,382.4 826.0,378.0 827.5,374.2 829.1,370.0 830.7,366.5 832.0,365.0 833.9,364.4 835.5,363.7 837.1,363.2 838.0,362.7 838.7,362.4 840.3,361.5 841.9,360.6 843.5,359.7 844.0,359.2 845.1,359.5 846.7,359.5 848.3,359.1 849.9,358.9 851.5,359.1 853.1,359.3 854.0,359.7 854.7,359.2 856.3,357.6 857.9,355.6 859.5,353.6 861.1,351.5 862.0,350.7 862.7,350.3 864.3,349.0 865.9,348.0 867.5,347.2 869.1,346.4 870.0,346.0 870.7,345.5 872.3,344.6 873.9,343.6 875.5,342.7 877.1,341.8 878.7,341.2 880.0,340.5 881.9,339.0 883.5,337.7 885.1,337.2 886.7,336.7 888.3,336.0 890.0,335.7 891.5,335.7 893.1,335.1 894.7,334.9 896.3,334.7 897.9,333.8 899.5,333.4 901.1,333.4 902.7,333.0 904.3,333.2 906.0,333.3 907.5,333.0 909.1,332.4 910.7,332.2 912.3,332.2 913.9,332.1 915.5,332.2 917.1,332.1 918.7,331.4 920.3,331.5 921.9,331.4 923.5,331.4 925.1,331.1 926.0,330.8 926.7,331.0 928.3,331.2 929.9,331.0 931.5,330.6 933.1,329.8 934.7,329.4 936.3,329.3 937.9,329.4 939.5,329.7 941.1,329.6 942.7,328.7 944.3,328.1 946.0,328.3 947.5,328.2 949.1,328.5 950.7,329.1 952.3,329.5 953.9,329.6 955.5,328.6 957.1,327.8 958.7,328.2 960.3,328.9 961.9,328.7 963.5,329.0 965.1,329.3 966.7,328.8 968.3,328.7 970.0,328.7 971.5,328.8 973.1,328.3 974.7,328.1 976.3,328.1 977.9,328.2 979.5,328.3 981.1,328.2 982.7,328.0 984.3,327.3 986.0,326.3 987.5,325.9 989.1,325.8 990.0,325.9 990.7,325.6 992.3,325.2 993.9,325.3 995.5,324.9 997.1,324.8 998.7,325.2 1000.0,325.1 1001.9,325.0 1003.5,325.0 1005.1,324.6 1006.7,323.9 1008.3,323.2 1009.9,322.9 1011.5,322.5 1013.1,322.3 1014.7,322.1 1016.3,321.5 1017.9,321.0 1019.5,320.6 1020.0,320.9 1021.1,321.0 1022.7,321.2 1024.3,321.3 1025.9,321.0 1027.5,320.6 1029.1,321.0 1030.7,321.0 1032.3,320.3 1033.9,320.4 1035.5,320.6 1037.1,320.4 1038.7,320.0 1040.0,319.6 1041.9,319.7 1043.5,319.9 1045.1,319.4 1046.7,319.1 1048.3,319.2 1049.9,319.7 1051.5,319.6 1053.1,318.9 1054.7,318.2 1056.3,318.1 1057.9,319.1 1059.5,319.8 1060.0,319.3 1061.1,318.8 1062.7,319.4 1064.3,319.7 1065.9,318.9 1067.5,318.9 1069.1,319.4 1070.7,319.3 1072.3,319.4 1073.9,319.1 1075.5,318.8 1077.1,318.6 1078.0,319.0 1078.7,319.5 1080.0,320.0 1081.9,319.8 1083.5,319.1 1085.1,318.2 1086.7,317.9 1088.3,317.7 1089.0,317.4 1089.9,317.4 1091.5,317.8 1093.1,318.2 1094.7,318.6 1096.3,319.1 1097.0,319.1 1097.9,318.7 1099.5,319.0 1101.1,319.0 1102.7,318.4 1104.3,318.2 1106.0,318.8 1107.5,318.4 1109.1,317.6 1111.0,317.0 1112.3,316.5 1113.9,316.9 1115.5,318.3 1116.0,318.8 1117.1,318.0 1118.7,317.8 1120.3,317.8 1121.9,317.6 1123.5,317.1 1125.0,317.5 1126.7,317.2 1128.3,316.3 1129.9,316.3 1131.5,317.2 1132.0,317.5 1133.1,317.3 1134.7,318.7 1136.3,321.0 1137.0,322.1 1137.9,324.1 1139.5,328.4 1140.0,328.7 1141.1,328.5 1142.7,329.1 1144.3,329.3 1145.0,328.9 1145.9,328.4 1147.5,326.3 1149.0,324.9 1150.7,324.2 1152.3,323.5 1153.9,322.7 1155.0,323.1 1157.1,323.3 1158.7,323.7 1160.3,324.2 1162.0,324.9 1163.5,326.4 1165.1,328.3 1166.4,329.0 1168.3,327.5 1169.9,325.1 1171.0,323.8 1173.1,322.9 1174.7,322.5 1176.3,322.5 1178.0,322.2 1179.5,321.2 1181.1,320.0 1182.7,318.7 1184.0,318.1 1185.9,318.3 1187.5,318.6 1189.1,319.0 1190.0,319.3 1190.7,318.9 1192.3,318.3 1193.9,317.3 1195.5,315.9 1197.1,315.0 1198.7,314.4 1200.0,314.3 1201.9,314.9 1203.5,315.2 1205.1,315.5 1206.7,316.1 1208.0,316.0 1209.9,314.5 1211.5,313.0 1213.0,312.4 1214.7,313.2 1216.3,314.1 1218.0,315.0 1219.5,314.9 1221.1,313.4 1222.7,311.8 1224.0,311.3 1225.9,311.8 1227.5,312.9 1229.1,314.3 1230.7,315.4 1232.0,316.0 1233.9,315.6 1235.5,314.5 1237.1,313.8 1238.0,313.4 1238.7,313.2 1240.3,314.3 1241.9,315.5 1243.5,316.7 1245.0,317.2 1246.7,316.2 1248.3,314.2 1249.9,312.1 1251.5,310.7 1252.0,310.9 1253.1,311.6 1254.7,314.1 1256.3,316.7 1258.0,317.1 1259.5,316.6 1261.1,314.2 1263.0,310.9 1264.3,308.6 1266.0,306.5 1267.5,307.1 1269.1,308.4 1270.7,309.6 1272.3,310.4 1273.0,310.4 1273.9,310.5 1275.5,310.5 1277.1,310.6 1278.7,310.2 1280.3,309.4 1282.0,309.4 1283.5,310.5 1285.1,311.7 1286.0,312.0 1286.7,312.2 1288.3,313.9 1289.9,315.4 1291.0,315.5 1293.1,313.6 1295.0,311.8 1296.3,312.0 1297.9,312.6 1299.5,312.8 1300.0,312.5 1301.1,313.0 1302.7,314.2 1304.3,315.1 1306.0,316.6 1307.5,315.8 1309.1,313.6 1311.0,311.7 1312.3,311.2 1313.9,310.6 1315.5,310.6 1316.0,311.0 1317.1,311.3 1318.7,312.7 1320.3,314.4 1322.0,314.9 1323.5,314.7 1325.1,313.5 1326.7,312.0 1328.0,311.6 1329.9,311.9 1331.5,311.7 1333.1,310.8 1334.7,310.4 1336.3,310.0 1338.0,309.7 1339.5,309.5 1341.1,310.8 1342.7,312.2 1344.3,312.4 1345.9,312.8 1347.0,313.1 1349.1,312.8 1350.7,311.7 1352.3,311.0 1353.0,310.1 1353.9,308.8 1355.5,307.0 1357.1,305.2 1358.0,304.7 1358.7,305.7 1360.3,308.8 1361.9,312.6 1363.5,315.4 1364.0,315.4 1365.1,314.4 1366.7,313.1 1368.3,312.9 1370.0,312.6 1371.5,311.6 1373.1,309.7 1374.7,307.4 1376.3,305.9 1377.0,305.5 1377.9,304.9 1379.5,304.5 1381.1,304.4 1382.7,304.7 1384.0,304.8 1385.9,306.2 1387.5,308.2 1389.0,309.5 1390.7,310.7 1392.3,311.7 1394.0,312.9 1395.5,313.1 1397.1,311.6 1398.7,310.1 1400.3,308.9 1402.0,308.1 1403.5,308.8 1405.1,309.6 1406.7,310.3 1408.0,310.5 1409.9,309.7 1411.5,308.1 1412.0,307.5 1413.1,307.9 1414.7,308.9 1416.3,309.8 1418.0,311.0 1419.5,311.9 1421.1,312.1 1423.0,312.4 1424.3,311.6 1425.9,310.3 1427.5,309.7 1428.0,309.6 1429.1,309.6 1430.7,309.4 1432.3,309.4 1433.9,309.6 1435.5,309.3 1437.1,309.3 1438.0,309.9 1438.7,310.1 1440.3,308.9 1441.9,307.1 1443.5,305.2 1444.0,305.3 1445.1,306.1 1446.7,306.3 1448.3,307.1 1449.0,306.9 1450.0,305.9 1451.5,305.7 1453.1,305.6 1454.7,306.6 1456.3,306.1 1457.9,305.0 1459.5,304.5 1461.1,305.0 1462.7,305.5 1464.0,305.4 1465.9,306.0 1467.5,306.3 1469.1,306.7 1471.0,306.5 1472.3,306.8 1473.9,307.4 1475.5,306.4 1477.1,305.6 1478.7,305.4 1480.3,304.5 1482.0,304.6 1483.5,305.3 1485.1,305.5 1486.7,305.1 1488.3,304.8 1489.9,305.0 1491.5,303.8 1493.1,302.7 1494.7,302.8 1496.0,304.1 1497.9,305.6 1499.5,307.6 1501.0,309.9 1502.7,314.4 1504.3,320.8 1505.0,324.1 1505.9,329.0 1507.5,339.9 1509.0,350.0 1510.7,358.9 1512.3,366.5 1514.0,376.0 1515.5,386.3 1517.0,400.0 1519.0,432.0 1520.4,460.0 1521.0,480.0 1522.2,520.0 1523.4,548.0 1524.4,562.3 1525.4,548.0 1526.5,520.0 1527.6,480.0 1528.2,460.0 1529.0,430.0 1529.9,409.7 1531.0,392.0 1533.1,367.1 1534.0,360.0 1534.7,355.7 1536.3,348.2 1537.0,346.2 1537.9,344.1 1539.5,341.4 1540.0,341.1 1541.1,340.7 1542.7,340.0 1544.3,339.8 1545.0,339.8 1545.9,338.9 1547.5,336.3 1548.0,336.0 1549.1,335.6 1550.7,335.0 1552.0,335.1 1553.9,335.2 1555.5,335.4 1557.1,335.1 1558.7,334.5 1560.3,334.9 1561.9,336.0 1563.5,335.2 1565.1,333.9 1566.0,334.0 1566.7,334.6 1568.3,334.0 1569.9,332.8 1571.5,331.3 1573.1,329.8 1574.0,328.9 1574.7,328.1 1576.3,326.7 1577.9,325.2 1579.5,323.6 1581.1,321.7 1582.0,320.7 1582.7,320.1 1584.3,318.5 1585.9,317.0 1587.5,315.0 1589.1,313.1 1590.0,312.8 1590.7,312.5 1592.3,311.3 1593.9,310.5 1595.5,310.1 1596.0,309.8 1597.1,309.3 1598.7,308.6 1600.3,307.9 1601.9,307.7 1603.5,307.4 1604.0,307.3 1605.1,307.3 1606.7,307.8 1608.3,308.0 1609.9,308.1 1611.5,307.9 1613.1,307.5 1614.7,307.4 1616.0,307.8 1617.9,308.2 1619.5,307.7 1621.1,307.2 1622.7,307.1 1624.0,307.2 1625.9,308.2 1627.5,310.2 1629.1,311.7 1630.0,311.5 1630.7,311.5 1632.3,311.5 1633.9,311.1 1635.5,310.9 1637.0,310.4 1638.7,308.4 1640.3,306.2 1642.0,305.0 1643.5,305.0 1645.1,305.1 1646.7,305.1 1648.3,304.9 1650.0,304.7 1651.5,305.0 1653.1,305.5 1654.7,306.0 1656.0,306.3 1657.9,307.3 1659.5,309.3 1661.1,311.7 1662.0,313.1 1662.7,314.2 1664.3,317.4 1665.9,321.0 1667.5,324.9 1668.0,326.2 1669.1,329.0 1670.7,333.5 1672.3,338.5 1674.0,344.0 1675.5,349.2 1677.1,355.1 1679.0,362.0 1680.3,366.9 1681.9,372.4 1683.0,374.9 1685.1,378.0 1687.0,379.3 1688.3,379.0 1689.9,378.6 1691.5,378.3 1693.1,378.7 1694.7,379.2 1696.0,379.2 1697.9,379.1 1699.5,379.5 1701.1,380.3 1703.0,381.2 1704.3,380.6 1705.9,379.1 1707.5,377.7 1709.0,376.4 1710.7,374.6 1712.3,372.3 1713.0,371.0 1713.9,366.4 1715.0,359.9 1717.1,354.1 1719.0,351.7 1720.3,353.7 1722.0,359.9 1723.5,374.4 1724.0,380.0 1725.1,394.3 1726.0,401.0 1726.7,400.7 1728.4,396.1 1730.0,378.1 1731.5,368.0 1732.0,366.1 1733.1,363.3 1734.7,360.4 1735.6,359.7 1736.3,360.1 1737.9,361.3 1739.5,362.9 1741.0,363.8 1742.7,364.4 1744.3,364.5 1745.9,365.0 1747.5,365.5 1748.0,365.3 1749.1,364.9 1750.7,363.4 1752.3,361.3 1753.0,360.7 1753.9,361.0 1755.5,360.7 1757.1,360.4 1758.0,360.5 1758.7,360.4 1760.3,361.1 1761.9,362.2 1763.5,363.3 1764.0,363.8 1765.1,364.9 1766.7,366.2 1768.3,367.5 1769.9,369.3 1771.0,371.0 1773.1,378.9 1774.0,384.0 1774.7,389.4 1776.3,405.9 1777.0,412.0 1777.9,418.1 1779.5,427.0 1781.0,436.0 1782.7,448.5 1784.0,460.0 1786.0,484.0 1787.6,495.5 1789.1,489.1 1789.6,485.9 1790.7,476.6 1792.0,467.9 1793.9,466.3 1795.5,465.7 1797.0,464.0 1799.0,440.0 1800.3,425.4 1802.0,408.0 1803.5,394.2 1805.0,384.0 1806.7,376.8 1808.3,372.3 1809.0,371.5 1809.9,372.9 1811.5,377.9 1812.0,380.0 1813.1,391.8 1814.0,404.0 1814.7,412.2 1816.0,424.0 1817.6,428.5 1819.5,421.0 1820.0,418.0 1821.1,408.9 1822.4,396.0 1824.3,378.8 1825.0,374.0 1825.9,369.2 1827.5,362.0 1829.0,358.1 1830.7,356.0 1832.3,355.1 1833.0,355.5 1833.9,355.6 1835.5,356.8 1837.1,358.5 1839.0,359.9 1840.3,360.0 1841.9,359.8 1843.0,359.0 1845.1,355.6 1847.0,350.0 1848.3,344.5 1849.9,335.6 1851.0,329.9 1853.1,319.6 1855.0,312.8 1856.3,310.3 1858.0,308.9 1859.5,311.7 1861.0,318.0 1863.0,340.0 1864.3,353.0 1866.0,370.0 1867.5,386.0 1869.0,404.0 1871.0,436.0 1872.3,450.0 1873.0,453.0 1873.9,451.2 1875.5,442.6 1876.0,439.9 1877.1,434.1 1879.0,424.0 1880.0,420.1 1881.9,416.2 1883.5,414.0 1884.0,413.5 1885.1,415.7 1887.0,424.0 1888.3,440.2 1889.0,450.0 1889.9,460.1 1891.5,476.0 1892.0,480.0 1893.1,488.4 1895.0,496.9 1896.3,497.1 1897.9,497.0 1899.5,496.4 1900.0,496.1 1901.1,493.5 1902.7,485.1 1904.0,478.1 1905.9,467.9 1907.0,464.0 1909.1,461.2 1911.0,460.0 1912.3,463.1 1914.0,472.0 1915.5,484.5 1917.0,500.0 1919.0,519.9 1920.3,521.6 1922.0,522.3 1923.5,522.5 1925.1,522.0 1927.0,520.8 1928.3,515.1 1930.0,500.0 1931.5,479.7 1933.0,460.0 1934.7,448.6 1936.3,440.2 1937.0,436.0 1937.9,429.9 1939.5,419.0 1940.0,416.0 1941.1,410.4 1942.7,403.4 1944.0,398.0 1945.9,390.0 1947.5,383.7 1948.0,382.0 1949.1,378.1 1950.7,373.0 1952.0,370.0 1953.9,367.2 1955.5,366.0 1956.0,366.0 1957.1,367.3 1959.0,374.0 1960.3,388.2 1961.0,400.0 1961.9,424.8 1962.4,436.0 1963.5,448.1 1964.0,450.0 1965.1,447.7 1967.0,436.0 1968.3,413.4 1969.0,400.0 1969.9,386.9 1971.0,374.0 1973.0,360.1 1974.7,357.7 1976.0,357.0 1977.9,357.3 1979.5,357.8 1980.0,358.1 1981.1,354.0 1982.0,350.0 1982.7,348.4 1984.4,346.2 1985.9,350.5 1987.0,354.0 1989.1,356.5 1990.0,356.8 1990.7,356.6 1992.3,356.6 1993.9,355.8 1995.0,354.9 1997.1,350.0 1998.0,348.1 1998.7,347.2 2000.3,344.8 2002.0,343.3 2003.5,344.7 2005.0,345.9 2007.0,335.9 2008.3,333.0 2010.0,331.6 2011.5,337.4 2013.0,343.9 2014.7,345.6 2016.0,345.9 2018.0,323.9 2019.5,315.1 2021.0,310.1 2022.7,307.4 2024.3,305.7 2025.0,305.3 2025.9,305.0 2027.5,305.7 2029.0,307.0 2031.0,320.0 2032.3,330.1 2034.0,344.0 2035.5,356.8 2037.0,366.0 2038.7,369.8 2040.3,371.9 2041.0,372.9 2041.9,374.8 2043.5,378.3 2045.0,380.1 2046.7,380.4 2048.3,381.1 2050.0,381.2 2051.5,386.2 2053.0,391.0 2054.7,386.1 2056.0,379.9 2057.9,371.0 2059.5,362.7 2060.0,360.1 2061.1,354.3 2063.0,344.0 2064.3,336.6 2066.0,328.0 2067.5,322.6 2069.1,318.0 2070.0,316.0 2070.7,314.6 2072.3,312.2 2073.9,310.2 2075.0,308.9 2077.1,306.7 2078.7,305.5 2080.3,304.8 2082.0,304.5 2083.5,304.9 2085.1,305.1 2086.7,304.5 2088.3,304.0 2090.0,304.5 2091.5,304.9 2093.1,305.6 2094.7,306.0 2096.3,306.0 2098.0,305.9 2099.5,305.4 2101.1,304.4 2102.0,303.7 2102.7,304.5 2104.3,307.1 2106.0,308.9 2107.5,309.2 2109.1,309.8 2110.7,309.8 2112.3,309.5 2113.9,309.8 2115.5,310.2 2116.0,310.2 2117.1,310.5 2118.7,311.7 2120.3,313.4 2122.0,315.0 2123.5,315.9 2125.1,316.9 2126.7,318.0 2128.0,319.0 2129.9,320.8 2131.5,322.0 2133.1,323.0 2134.7,324.4 2136.0,326.0 2137.9,328.0 2139.5,329.5 2141.1,330.4 2142.0,330.3 2142.7,330.5 2144.3,329.9 2145.9,328.8 2147.5,328.1 2148.0,328.0 2149.1,328.1 2150.7,329.1 2152.3,330.2 2153.9,331.2 2155.0,331.0 2157.1,330.4 2158.7,330.2 2160.3,329.5 2162.0,329.3 2163.5,330.0 2165.1,331.4 2166.7,333.4 2168.0,335.2 2169.9,338.3 2171.5,340.7 2172.0,341.1 2173.1,342.1 2174.7,343.6 2176.3,344.9 2177.9,345.8 2179.5,346.4 2180.0,346.8 2181.1,346.6 2182.7,345.2 2184.3,343.2 2186.0,342.3 2187.5,342.9 2189.1,344.6 2190.7,346.4 2192.3,347.8 2193.0,348.1 2193.9,347.8 2195.5,345.9 2197.1,343.1 2198.7,340.8 2200.0,340.4 2201.9,340.9 2203.5,341.2 2204.0,341.1 2205.1,340.5 2206.7,338.1 2208.3,334.9 2210.0,332.1 2211.5,330.0 2213.1,327.6 2214.7,325.1 2216.3,323.4 2218.0,322.8 2219.5,323.0 2221.1,323.3 2222.7,323.9 2224.0,324.1 2225.9,322.0 2227.5,319.2 2229.0,317.1 2230.7,319.7 2232.3,323.9 2233.0,325.9 2233.9,329.7 2235.5,341.3 2236.0,346.0 2237.1,364.8 2238.0,380.0 2238.7,387.7 2240.0,396.0 2241.9,389.9 2243.0,384.0 2245.1,369.8 2246.0,364.0 2246.7,360.1 2248.3,351.4 2250.0,346.1 2251.5,344.4 2253.1,343.2 2254.0,343.4 2254.7,343.5 2256.3,343.6 2257.9,343.9 2259.0,344.0 2261.1,355.8 2262.0,358.9 2262.7,358.7 2264.3,357.2 2265.0,356.0 2265.9,352.2 2267.5,341.9 2268.0,340.2 2269.1,338.3 2271.0,336.2 2272.3,335.4 2274.0,334.9 2275.5,325.4 2277.0,313.9 2278.7,309.6 2280.3,307.0 2281.0,306.0 2281.9,304.6 2283.5,302.6 2285.0,302.0 2286.7,311.1 2288.0,317.9 2289.9,319.6 2291.0,320.0 2293.0,314.1 2294.7,315.3 2296.0,317.9 2298.0,332.0 2299.5,333.8 2300.0,333.7 2301.1,330.8 2302.0,326.0 2302.7,320.7 2304.0,310.0 2306.0,303.0 2307.5,303.7 2308.0,304.9"/>
<path stroke="#FF6600" d="M173.1,127.3 174.7,127.5 176.3,127.3 177.9,127.2 179.5,127.1 181.1,126.6 182.7,126.5 184.3,126.8 185.9,127.0 187.5,127.1 189.1,127.3 190.7,127.6 192.3,127.8 193.9,127.6 195.5,127.3 196.0,127.5 197.1,127.7 198.7,128.1 200.3,128.1 201.9,127.8 203.5,127.7 205.1,127.8 206.7,128.1 208.3,128.3 209.9,128.5 211.5,128.3 213.1,128.8 214.7,130.0 216.3,130.5 217.9,130.2 219.5,129.3 220.0,129.0 221.1,129.1 222.7,129.4 224.3,130.0 225.9,130.2 227.5,130.3 229.1,130.3 230.7,130.6 232.3,131.5 233.9,131.2 235.5,130.9 237.1,131.2 238.7,131.0 240.3,131.2 241.9,131.6 243.5,131.2 245.1,131.1 246.7,131.6 248.3,132.4 249.9,132.6 251.5,132.3 253.1,132.1 254.7,131.4 256.0,131.5 257.9,132.0 259.5,131.7 261.1,131.6 262.7,131.6 264.3,131.6 265.9,131.1 267.5,130.5 269.1,130.4 270.7,130.5 272.3,130.4 273.9,129.8 275.5,130.0 277.1,130.5 278.7,130.7 280.0,130.9 281.9,129.8 283.5,129.0 285.1,129.6 286.7,129.7 288.3,129.2 289.9,128.8 291.5,129.1 293.1,129.4 294.7,129.3 296.3,129.2 297.9,129.3 299.5,129.0 300.0,128.7 301.1,129.1 302.7,129.7 304.3,130.1 305.9,130.0 307.5,130.1 309.1,131.0 310.7,131.5 312.3,131.5 313.9,131.9 315.5,132.6 317.1,132.4 318.7,132.5 320.0,132.8 321.9,132.6 323.5,132.7 325.1,132.7 326.7,132.1 328.3,131.5 329.9,131.3 331.5,131.4 333.1,131.2 334.7,130.8 336.3,130.7 337.9,130.3 339.5,130.7 340.0,131.1 341.1,130.7 342.7,130.2 344.3,130.4 345.9,130.3 347.5,129.8 349.1,129.3 350.7,129.1 352.3,129.4 353.9,130.0 355.5,129.6 357.1,129.1 358.7,128.8 360.3,128.8 361.9,128.6 363.5,128.4 365.1,128.5 366.7,128.5 368.3,128.6 370.0,128.5 371.5,128.4 373.1,128.8 374.7,128.6 376.3,127.8 377.9,128.3 379.5,128.9 381.1,129.2 382.7,129.7 384.3,129.6 386.0,129.4 387.5,129.6 389.1,130.2 390.7,130.4 392.3,131.1 393.9,131.8 395.5,132.4 397.1,132.8 398.7,132.9 400.0,133.0 401.9,133.4 403.5,133.7 405.1,134.3 406.7,134.1 408.3,133.7 409.9,134.0 411.5,134.1 413.1,134.4 414.7,134.9 416.3,134.6 417.9,134.2 419.5,134.3 420.0,134.5 421.1,134.8 422.7,134.7 424.3,134.3 425.9,134.4 427.5,135.5 429.1,136.4 430.7,137.3 432.3,138.5 433.9,139.1 435.5,139.7 437.1,140.2 438.7,141.0 440.0,141.4 441.9,142.0 443.5,143.0 445.1,143.9 446.7,144.7 448.3,145.9 449.9,146.6 451.5,146.9 453.1,147.8 454.7,149.3 456.3,150.5 457.9,151.3 459.5,151.9 460.0,152.2 461.1,153.0 462.7,153.9 464.3,155.0 465.9,156.1 467.5,157.1 469.1,157.8 470.7,158.8 472.3,159.8 473.9,160.9 475.5,162.0 477.1,162.9 478.7,164.1 480.0,165.1 481.9,166.6 483.5,167.7 485.1,168.8 486.7,170.0 488.3,171.3 489.9,172.9 491.5,174.2 493.1,175.5 494.7,177.0 496.3,178.3 497.9,179.3 499.5,180.5 500.0,181.2 501.1,182.0 502.7,183.1 504.3,184.2 505.9,185.3 507.5,186.5 509.1,187.4 510.7,188.3 512.3,189.4 513.9,190.4 515.5,191.5 517.1,192.6 518.7,193.6 520.0,194.6 521.9,196.2 523.5,197.5 525.1,198.4 526.7,199.3 528.3,200.5 529.9,202.0 531.5,203.1 533.1,204.2 534.7,205.4 536.3,206.3 537.9,207.3 539.5,208.5 540.0,208.9 541.1,209.6 542.7,211.0 544.3,212.0 545.9,212.7 547.5,213.5 549.1,214.4 550.7,215.4 552.3,216.4 553.9,217.3 555.5,218.0 557.1,218.5 558.7,218.9 560.0,219.5 561.9,220.6 563.5,221.3 565.1,222.2 566.7,223.3 568.3,224.0 569.9,224.5 571.5,225.2 573.1,226.0 574.7,226.5 576.3,226.6 577.9,226.9 579.5,227.5 580.0,228.1 581.1,228.9 582.7,229.0 584.3,229.2 585.9,229.8 587.5,230.0 589.1,229.6 590.7,229.8 592.3,231.0 593.9,230.9 595.5,231.0 597.1,231.5 598.7,231.5 600.0,231.6 601.9,232.2 603.5,233.0 605.1,233.5 606.7,233.9 608.0,234.2 609.9,233.6 611.5,232.6 613.1,231.1 615.0,229.9 616.3,230.7 617.9,231.4 619.5,231.8 621.1,231.7 622.0,231.6 622.7,231.9 624.3,232.1 625.9,231.9 627.5,231.8 629.1,231.5 630.7,230.8 632.3,229.8 633.9,229.1 635.5,229.2 637.1,229.2 638.7,228.6 640.0,227.9 641.9,227.6 643.5,227.3 645.1,226.7 646.7,225.9 648.3,225.5 649.9,225.4 651.5,225.2 653.1,224.4 654.7,223.7 656.0,223.2 657.9,221.1 659.5,218.8 661.1,216.7 662.0,216.1 662.7,215.4 664.3,214.1 665.9,213.3 667.5,212.8 669.1,212.2 670.7,211.8 672.3,211.3 673.9,210.5 675.5,209.4 677.1,208.7 678.7,208.5 680.3,208.1 681.9,207.3 683.5,206.4 684.0,205.9 685.1,205.2 686.7,203.7 688.3,202.3 689.9,201.2 691.5,200.2 693.1,199.0 694.7,197.8 696.0,196.9 697.9,195.2 699.5,194.2 701.1,193.1 702.7,192.1 704.3,191.3 705.9,190.1 707.5,189.1 709.1,188.4 710.7,187.4 712.3,186.6 713.9,185.8 715.5,184.8 717.1,183.9 718.7,183.3 720.0,182.6 721.9,181.4 723.5,180.9 725.1,180.3 726.7,179.4 728.3,178.4 729.9,177.5 731.5,177.0 733.1,176.5 734.7,175.5 736.3,174.4 737.9,173.6 739.5,172.8 740.0,172.5 741.1,172.2 742.7,171.8 744.3,171.2 745.9,170.1 747.5,169.2 749.1,168.2 750.7,167.4 752.3,167.1 753.9,166.6 755.5,165.5 756.0,164.5 757.1,164.2 758.7,163.9 760.3,163.2 761.9,162.6 763.5,162.4 765.1,161.3 766.7,160.7 768.0,160.6 769.9,160.5 771.5,160.5 773.1,160.4 774.7,160.2 776.0,159.9 777.9,160.6 779.5,161.8 781.1,163.0 782.0,163.9 782.7,164.5 784.3,166.7 785.9,169.6 787.0,172.0 789.1,178.1 790.7,183.7 792.0,188.1 793.9,194.6 795.5,200.0 797.0,204.1 798.7,207.1 800.3,209.4 802.0,212.2 803.5,214.8 805.1,217.5 807.0,222.0 808.3,226.5 810.0,234.0 811.5,243.1 812.0,245.9 813.1,252.4 814.4,256.7 816.3,249.4 817.0,245.9 817.9,242.2 819.5,235.7 820.0,233.8 821.1,230.6 822.7,226.5 824.3,222.4 826.0,218.0 827.5,213.5 829.1,208.3 831.0,204.1 832.3,202.6 833.9,200.7 835.5,199.2 836.0,199.0 837.1,198.8 838.7,198.6 840.3,198.1 841.9,197.3 843.5,196.8 845.0,196.6 846.7,197.5 848.3,199.4 850.0,202.0 851.5,206.4 853.0,211.9 854.7,217.6 855.6,218.8 856.3,218.1 858.0,212.0 859.5,199.3 860.0,196.1 861.1,192.2 863.0,187.9 864.3,186.4 865.9,184.9 867.5,183.8 869.1,183.0 870.7,182.0 872.0,181.0 873.9,179.9 875.5,178.9 877.1,177.6 878.7,176.1 880.3,175.1 881.9,174.0 883.5,172.9 885.1,172.1 886.0,171.8 886.7,171.3 888.3,170.6 889.9,170.4 891.5,170.1 893.1,170.0 894.7,169.6 896.3,168.7 897.9,168.4 899.5,168.2 900.0,167.7 901.1,167.5 902.7,167.4 904.3,167.2 905.9,167.3 907.5,167.5 909.1,167.2 910.7,166.3 912.3,166.0 913.9,166.0 915.5,165.6 917.1,165.4 918.7,165.3 920.0,165.0 921.9,165.1 923.5,164.7 925.1,164.4 926.7,164.1 928.3,164.0 929.9,163.4 931.5,162.9 933.1,163.2 934.7,163.3 936.3,162.9 937.9,163.4 939.5,163.6 940.0,163.3 941.1,163.1 942.7,162.9 944.3,162.9 945.9,162.2 947.5,161.5 949.1,161.9 950.7,162.4 952.3,161.9 953.9,161.5 955.5,161.5 957.1,161.4 958.7,161.8 960.0,161.6 961.9,161.8 963.5,162.1 965.1,162.1 966.7,162.2 968.3,162.7 970.0,163.0 971.5,162.4 973.1,161.3 974.7,160.4 976.0,160.0 977.9,159.4 979.5,158.9 981.1,158.2 982.7,157.7 984.3,157.6 985.9,157.0 987.5,156.7 989.1,156.9 990.7,157.1 992.3,156.8 993.9,156.4 995.5,155.8 997.1,155.4 998.7,155.4 1000.0,155.2 1001.9,154.8 1003.5,154.5 1005.1,154.1 1006.7,153.8 1008.3,153.8 1009.9,153.9 1011.5,153.3 1013.1,153.0 1014.7,153.1 1016.3,152.9 1017.9,152.4 1019.5,151.6 1020.0,151.7 1021.1,151.7 1022.7,151.6 1024.3,151.7 1025.9,151.6 1027.5,151.2 1029.1,150.7 1030.7,150.3 1032.3,149.8 1033.9,150.0 1035.5,150.6 1037.1,150.1 1038.7,149.5 1040.0,149.7 1041.9,150.0 1043.5,149.8 1045.1,149.3 1046.7,149.6 1048.3,150.6 1049.9,151.0 1051.5,149.9 1053.1,149.0 1054.7,149.0 1056.3,149.1 1057.9,149.4 1059.5,150.0 1060.0,149.9 1061.1,148.9 1062.7,148.9 1064.3,149.1 1065.9,148.8 1067.5,148.6 1069.1,148.7 1070.7,149.0 1072.3,148.6 1073.9,148.3 1075.5,148.8 1077.1,148.4 1078.0,147.5 1078.7,147.7 1080.0,148.5 1081.9,148.6 1083.5,148.4 1085.1,148.8 1086.7,148.9 1088.3,148.5 1089.9,147.6 1091.5,147.3 1092.0,147.9 1093.1,147.7 1094.7,146.6 1096.0,145.9 1097.9,145.6 1099.5,144.9 1101.1,145.2 1102.7,145.7 1104.3,145.3 1105.9,145.3 1107.5,145.8 1109.1,146.4 1110.0,146.4 1110.7,145.7 1112.3,145.5 1113.9,145.9 1115.5,145.5 1117.1,144.4 1119.0,143.9 1120.3,144.6 1121.9,145.4 1123.5,145.9 1124.0,146.1 1125.1,145.6 1126.7,145.3 1128.3,145.4 1129.9,146.3 1131.0,146.4 1133.1,149.2 1135.0,154.0 1136.3,157.2 1137.9,161.4 1139.0,164.0 1141.1,168.4 1142.7,170.8 1143.6,171.1 1144.3,171.0 1145.9,169.1 1147.5,166.7 1148.0,166.1 1149.1,163.9 1150.7,160.7 1151.6,160.0 1152.3,159.9 1153.9,161.0 1155.5,162.4 1157.0,163.2 1158.7,163.6 1160.3,164.0 1162.0,164.0 1163.5,163.4 1165.1,162.9 1167.0,162.1 1168.3,160.8 1169.9,158.8 1171.5,156.5 1172.0,155.9 1173.1,154.7 1174.7,153.3 1176.3,151.8 1177.9,150.5 1179.5,149.4 1180.0,149.2 1181.1,148.3 1182.7,146.9 1184.3,145.6 1186.0,145.0 1187.5,145.0 1189.1,144.4 1190.7,143.6 1192.0,143.8 1193.9,144.0 1195.5,143.1 1197.1,142.0 1198.7,141.6 1200.0,141.7 1201.9,141.9 1203.5,143.2 1205.0,144.4 1206.7,143.4 1208.3,142.2 1209.9,140.8 1211.5,139.5 1213.1,138.8 1214.0,138.9 1214.7,139.1 1216.3,138.8 1217.9,138.7 1219.5,138.9 1221.1,138.4 1222.0,137.8 1222.7,137.8 1224.3,138.0 1225.9,138.6 1227.5,139.4 1228.0,139.5 1229.1,140.0 1230.7,140.5 1232.3,140.9 1233.9,141.4 1235.0,141.6 1237.1,138.9 1238.7,135.9 1239.6,136.0 1240.3,135.5 1241.9,138.1 1243.5,141.4 1244.4,142.5 1245.1,142.2 1246.7,140.7 1248.3,138.8 1249.9,137.3 1251.5,137.0 1252.0,137.4 1253.1,137.4 1254.7,139.0 1256.3,140.9 1257.0,141.2 1257.9,140.8 1259.5,139.6 1261.1,137.6 1263.0,134.9 1264.3,132.3 1265.9,129.3 1266.4,128.9 1267.5,130.1 1269.1,133.9 1271.0,136.6 1272.3,136.4 1273.9,135.2 1275.5,134.1 1276.0,134.0 1277.1,134.4 1278.7,135.3 1280.3,136.3 1282.0,137.0 1283.5,137.3 1285.1,137.6 1286.0,137.1 1286.7,137.3 1288.3,138.7 1289.9,139.7 1291.0,139.9 1293.1,138.5 1294.7,136.3 1296.0,135.5 1297.9,138.1 1299.5,140.2 1300.0,140.7 1301.1,140.8 1302.7,140.3 1304.3,139.7 1305.9,139.2 1307.5,138.4 1308.0,137.4 1309.1,136.7 1310.7,135.6 1312.0,134.8 1313.9,134.9 1315.5,135.9 1317.1,136.5 1318.0,136.9 1318.7,137.5 1320.3,139.9 1322.0,140.6 1323.5,139.4 1325.1,135.7 1327.0,132.9 1328.3,133.9 1329.9,134.2 1331.5,133.1 1333.1,133.1 1334.0,133.3 1334.7,133.1 1336.3,132.9 1337.9,132.0 1339.5,131.7 1341.1,132.4 1343.0,132.2 1344.3,131.5 1345.9,132.1 1347.5,133.1 1348.0,133.5 1349.1,132.5 1350.4,131.5 1352.3,133.6 1353.9,136.3 1354.4,137.0 1355.5,135.7 1357.0,133.5 1358.7,133.9 1360.3,135.9 1361.9,137.8 1363.0,138.2 1365.1,135.3 1366.7,131.8 1368.0,130.0 1369.9,129.3 1371.5,128.9 1373.1,128.0 1374.7,127.8 1376.0,127.8 1377.9,127.5 1379.5,127.6 1381.1,128.2 1383.0,128.5 1384.3,128.4 1385.9,129.1 1387.5,129.9 1389.0,129.7 1390.7,129.2 1392.0,129.7 1393.9,130.8 1395.5,131.8 1397.1,132.8 1398.0,133.0 1398.7,133.1 1400.3,132.5 1401.9,131.7 1403.5,131.0 1404.0,131.8 1405.1,132.0 1406.7,132.0 1408.3,131.4 1409.9,131.3 1411.5,131.9 1412.0,132.0 1413.1,132.3 1414.7,133.4 1416.3,134.1 1418.0,134.2 1419.5,134.0 1421.1,134.1 1422.7,134.3 1424.0,133.8 1425.9,132.6 1427.5,131.3 1429.1,130.3 1431.0,129.8 1432.3,130.4 1433.9,131.7 1435.5,133.1 1437.1,133.6 1438.0,133.5 1438.7,134.0 1440.3,132.3 1441.9,130.1 1443.5,128.9 1444.0,128.7 1445.1,128.7 1446.7,129.5 1448.3,130.5 1450.0,130.0 1451.5,129.0 1453.1,129.6 1454.7,130.4 1456.3,131.2 1457.9,131.8 1459.5,131.3 1460.0,131.4 1461.1,131.8 1462.7,130.2 1464.3,128.2 1466.0,127.0 1467.5,127.6 1469.1,127.9 1470.7,127.5 1472.0,127.5 1473.9,128.2 1475.5,129.2 1477.1,129.4 1478.7,129.2 1480.0,129.2 1481.9,129.3 1483.5,128.5 1485.1,128.1 1486.0,128.4 1486.7,128.2 1488.3,127.7 1489.9,127.1 1491.5,126.7 1493.1,126.8 1494.7,127.2 1496.0,127.8 1497.9,127.6 1499.5,126.9 1501.1,127.1 1502.7,127.6 1504.0,127.8 1505.9,129.6 1507.5,132.1 1509.1,134.6 1510.0,135.7 1510.7,136.7 1512.3,138.3 1513.9,139.7 1515.0,140.8 1517.1,143.2 1518.7,145.6 1520.0,148.1 1521.9,156.4 1523.0,162.1 1525.4,172.6 1526.7,169.4 1528.0,164.0 1529.9,158.5 1531.0,156.0 1533.1,152.9 1534.7,151.0 1536.0,149.7 1537.9,147.6 1539.5,145.8 1541.0,145.1 1542.7,145.3 1544.3,145.5 1545.0,145.8 1545.9,146.0 1547.5,145.1 1549.0,144.3 1550.7,145.3 1552.3,147.5 1554.0,149.0 1555.5,149.2 1557.1,149.6 1559.0,149.8 1560.0,151.0 1561.9,151.6 1563.5,152.1 1565.1,153.1 1567.0,153.4 1568.3,152.3 1569.9,151.0 1571.5,150.0 1572.0,149.7 1573.1,149.8 1574.7,149.7 1576.0,149.6 1577.9,148.6 1579.5,147.2 1581.1,145.7 1582.0,144.9 1582.7,144.4 1584.3,142.8 1585.9,141.1 1587.5,139.6 1589.0,138.2 1590.7,136.4 1592.3,135.0 1593.9,134.1 1595.5,133.6 1596.0,133.7 1597.1,133.8 1598.7,134.3 1600.3,134.8 1601.9,135.0 1603.0,135.7 1605.1,137.7 1607.0,140.0 1608.3,142.8 1610.0,145.5 1611.5,145.1 1613.1,143.5 1614.7,141.7 1616.0,141.2 1617.9,142.1 1619.5,143.3 1620.0,143.6 1621.1,143.6 1622.7,142.6 1624.0,141.9 1625.9,145.6 1627.0,150.0 1629.0,166.0 1631.0,188.1 1632.3,186.0 1633.0,184.1 1633.9,181.4 1635.5,174.8 1636.0,172.0 1637.1,161.8 1638.0,154.0 1638.7,150.9 1640.3,145.8 1641.0,144.0 1641.9,141.9 1643.5,138.8 1645.1,136.7 1646.0,136.1 1646.7,135.9 1648.3,134.9 1649.9,134.4 1651.0,134.0 1653.1,128.8 1654.0,127.4 1654.7,127.0 1656.3,127.4 1658.0,128.3 1659.5,129.0 1661.1,129.9 1662.7,131.3 1664.0,132.9 1665.9,136.8 1667.0,140.0 1669.1,151.1 1670.0,156.0 1670.7,159.2 1672.3,166.1 1673.9,172.3 1675.0,176.1 1677.1,183.4 1678.7,188.0 1680.0,189.8 1681.9,190.5 1683.5,191.7 1685.0,192.3 1686.7,193.8 1688.3,196.0 1690.0,198.3 1691.5,200.4 1693.1,202.4 1694.0,202.8 1694.7,202.7 1696.3,203.1 1697.9,203.4 1699.0,203.8 1701.1,207.0 1702.7,209.9 1703.6,210.4 1704.3,210.0 1705.9,208.2 1707.5,205.4 1709.0,203.1 1710.7,201.2 1712.3,199.2 1714.0,196.9 1715.5,194.8 1717.1,191.3 1718.0,188.0 1719.0,178.0 1720.3,176.8 1722.0,176.4 1723.5,178.2 1725.1,182.2 1726.0,184.0 1726.7,185.0 1728.3,186.7 1729.0,186.9 1729.9,186.3 1731.5,182.9 1733.0,180.1 1734.7,178.4 1736.3,177.0 1737.0,176.3 1737.9,176.0 1739.5,176.2 1741.1,176.8 1743.0,177.0 1744.3,178.1 1745.9,180.4 1747.0,182.0 1749.1,185.2 1751.0,188.2 1752.3,189.9 1753.9,191.6 1755.5,193.2 1757.0,194.2 1758.7,194.5 1760.3,194.4 1761.9,194.5 1763.0,194.4 1765.1,193.4 1766.7,192.5 1768.0,191.3 1769.9,188.5 1771.5,186.1 1772.0,185.6 1773.1,185.4 1774.7,184.9 1776.0,184.5 1777.9,185.6 1779.5,187.2 1781.1,188.9 1782.0,189.8 1782.7,190.8 1784.3,193.5 1785.9,196.0 1787.0,196.8 1789.1,196.5 1791.0,196.2 1792.3,195.3 1793.9,193.1 1795.0,192.0 1797.1,191.9 1798.0,191.4 1798.7,189.9 1800.3,185.4 1801.0,183.9 1801.9,182.6 1803.5,180.9 1805.1,180.0 1806.0,180.0 1806.7,180.1 1808.3,180.1 1810.0,180.2 1811.5,180.5 1813.1,181.0 1814.0,180.9 1814.7,181.3 1816.3,181.7 1818.0,181.2 1819.5,179.5 1821.1,176.7 1822.0,175.2 1822.7,173.9 1824.3,170.3 1826.0,167.2 1827.5,165.0 1829.1,162.9 1830.7,161.1 1832.0,159.9 1833.9,158.7 1835.5,157.9 1837.1,156.4 1838.7,155.4 1840.0,154.9 1841.9,153.7 1843.5,152.5 1845.1,151.4 1846.7,149.8 1848.0,148.3 1849.9,145.0 1851.5,141.4 1853.0,138.0 1854.7,133.1 1856.3,128.9 1857.0,128.2 1857.9,127.8 1859.5,126.8 1860.0,126.7 1861.1,130.6 1862.0,136.1 1862.7,141.2 1864.0,154.0 1866.0,180.0 1867.0,200.0 1869.0,204.9 1870.7,206.5 1872.3,207.8 1873.9,208.6 1875.5,209.2 1876.0,209.6 1877.1,210.4 1878.7,211.1 1880.3,211.7 1882.0,212.9 1883.5,214.3 1885.1,216.4 1886.0,218.1 1886.7,221.0 1888.0,230.0 1889.9,243.5 1891.0,252.0 1893.1,269.5 1894.0,276.0 1894.7,280.4 1896.3,289.1 1897.0,292.0 1897.9,295.2 1899.5,299.4 1900.0,299.6 1901.1,299.5 1902.7,298.7 1904.0,297.8 1905.9,294.3 1907.5,289.7 1909.0,286.1 1910.7,282.7 1912.3,280.2 1914.0,279.2 1915.5,279.5 1917.1,280.5 1918.7,281.3 1920.0,281.5 1921.9,281.8 1923.5,282.9 1925.1,283.4 1926.7,283.5 1928.0,283.6 1929.9,281.7 1931.5,278.1 1933.1,274.1 1934.0,272.1 1934.7,270.8 1936.3,268.0 1937.9,265.0 1939.0,262.1 1941.1,252.5 1942.0,248.0 1942.7,244.8 1944.3,237.5 1946.0,230.1 1947.5,223.8 1949.1,217.4 1950.0,214.0 1950.7,211.3 1952.3,205.4 1954.0,200.0 1955.5,195.2 1957.1,191.0 1958.0,190.1 1958.7,190.1 1960.3,190.4 1962.0,191.0 1963.5,195.3 1964.0,196.0 1965.1,195.3 1967.0,192.1 1968.3,189.1 1969.9,184.6 1971.0,182.1 1973.1,178.7 1974.7,176.6 1976.3,174.8 1977.0,174.1 1977.9,172.9 1979.5,170.8 1981.1,169.0 1983.0,167.8 1984.3,167.7 1985.9,168.2 1987.0,168.5 1989.1,171.2 1991.0,174.2 1992.3,176.0 1993.9,178.3 1995.5,180.0 1996.0,180.3 1997.1,180.0 1998.7,179.9 2000.3,180.4 2002.0,180.6 2003.5,180.3 2005.1,179.1 2007.0,177.1 2008.3,172.9 2010.0,166.0 2011.5,163.6 2013.1,161.5 2014.0,159.9 2014.7,158.6 2016.3,155.8 2018.0,152.0 2019.5,147.7 2021.1,142.6 2022.0,140.0 2022.7,138.0 2024.3,133.3 2026.0,129.8 2027.5,128.5 2029.0,128.2 2030.7,132.8 2031.4,136.0 2032.3,141.4 2033.4,150.0 2035.4,168.0 2037.1,179.7 2038.0,184.0 2038.7,186.4 2040.3,190.9 2042.0,194.1 2043.5,196.0 2045.1,197.6 2047.0,198.6 2048.3,199.3 2049.9,200.4 2051.5,200.4 2052.0,200.1 2053.1,200.5 2054.7,200.9 2056.3,200.7 2057.0,200.8 2057.9,200.6 2059.5,197.4 2060.0,196.0 2061.1,192.1 2063.0,182.0 2064.3,172.7 2065.0,168.0 2065.9,163.1 2067.5,155.9 2068.0,154.0 2069.1,150.0 2070.7,145.0 2072.0,141.8 2073.9,138.3 2075.5,136.0 2077.1,134.1 2078.0,133.1 2078.7,132.5 2080.3,131.3 2081.9,130.2 2083.5,129.2 2085.0,128.2 2086.7,127.1 2088.3,126.1 2089.9,125.6 2091.0,125.6 2093.1,125.7 2094.7,126.0 2096.0,125.5 2097.9,123.5 2099.5,121.3 2101.0,120.2 2102.7,120.8 2104.3,121.2 2105.9,121.4 2107.0,121.3 2109.1,120.6 2110.7,119.3 2112.3,118.3 2113.0,117.9 2113.9,118.1 2115.5,120.2 2117.0,122.0 2118.7,123.1 2120.3,123.7 2121.0,124.1 2121.9,125.4 2123.5,129.2 2125.0,131.0 2126.7,130.4 2128.3,130.0 2129.9,130.3 2131.5,130.5 2133.0,130.2 2134.7,129.6 2136.3,129.3 2137.9,129.3 2139.0,129.0 2141.1,130.9 2143.0,133.5 2144.3,134.5 2145.9,135.4 2147.0,136.1 2149.1,137.5 2150.7,139.0 2152.0,140.0 2153.9,142.3 2155.0,142.9 2157.1,141.5 2158.7,139.2 2160.0,138.1 2161.9,136.9 2163.5,135.8 2165.1,135.3 2166.0,135.8 2166.7,135.6 2168.3,135.8 2169.9,136.4 2171.0,136.6 2173.1,137.5 2175.0,138.2 2176.3,141.5 2178.0,147.0 2179.5,148.4 2181.1,149.4 2183.0,149.4 2184.3,149.5 2185.9,149.3 2187.5,149.1 2189.0,149.0 2190.7,150.0 2192.3,152.2 2193.9,154.2 2195.0,154.4 2197.1,154.3 2198.7,153.6 2200.3,152.6 2201.0,152.3 2201.9,152.5 2203.5,152.6 2205.1,152.1 2206.0,152.0 2206.7,151.2 2208.3,147.6 2209.0,147.1 2209.9,147.7 2211.5,148.1 2213.1,148.2 2215.0,147.3 2216.3,145.4 2218.0,142.3 2219.5,141.4 2221.1,140.5 2223.0,139.7 2224.3,139.5 2225.9,139.3 2227.5,138.9 2228.0,138.9 2229.1,137.7 2230.7,134.3 2232.0,132.8 2233.9,134.3 2235.5,137.6 2236.0,139.0 2237.1,146.0 2238.0,151.9 2238.7,154.7 2240.3,159.5 2241.0,160.2 2241.9,159.4 2243.5,157.1 2245.0,154.8 2246.7,152.3 2248.3,150.1 2250.0,148.8 2251.5,150.0 2253.0,150.6 2254.7,149.4 2256.3,148.1 2257.0,148.2 2257.9,149.4 2259.5,155.7 2260.0,158.1 2261.1,165.2 2262.0,170.1 2262.7,171.9 2264.3,175.0 2265.4,175.6 2267.5,161.7 2268.0,159.9 2269.1,158.7 2270.7,158.0 2272.3,157.9 2273.0,157.8 2273.9,156.0 2275.5,149.9 2276.0,148.0 2277.1,143.0 2278.7,134.9 2280.0,131.8 2281.9,133.5 2283.5,135.8 2285.0,136.5 2286.7,136.3 2288.3,134.9 2289.0,133.9 2289.9,132.0 2291.5,127.6 2292.0,127.2 2293.1,131.6 2294.0,140.0 2295.0,162.0 2296.3,164.7 2297.9,165.9 2299.0,166.7 2301.1,169.5 2302.6,170.1 2304.0,160.0 2305.4,140.0 2306.0,137.0"/>
</g>
<g fill="none" stroke="#767171">
<line x1="1634" y1="75.95" x2="1632.55" y2="1198.9" stroke-width="6.1" stroke-dasharray="22.1 15.864"/>
<line x1="1901" y1="66.8" x2="1901" y2="1189.95" stroke-width="6.0" stroke-dasharray="22.1 15.873"/>
<g stroke-width="7.8">
<line x1="1964.0" y1="167.1" x2="1964.0" y2="1056.9" stroke-dasharray="29.75 20.84"/>
<line x1="2059.05" y1="171.1" x2="2059.05" y2="1060.9" stroke-dasharray="29.75 20.84"/>
<line x1="1999.06" y1="123.0" x2="2028.8" y2="123.0"/>
<line x1="2012.1" y1="1072.0" x2="2041.85" y2="1072.0"/>
<path d="M1964.0 145.8 L1964.0 138.0 A15.0 15.0 0 0 1 1979.0 123.0"/>
<path d="M2049.62 124.07 A15.0 15.0 0 0 1 2059.05 138.0 L2059.05 150.8"/>
<path d="M1991.9 1072.0 L1979.0 1072.0 A15.0 15.0 0 0 1 1965.52 1063.58"/>
<path d="M2059.05 1060.5 A15.0 15.0 0 0 1 2058.95 1062.2"/>
</g>
</g>
<g fill="#000000">
<rect x="171.03" y="1258.97" width="2197.0" height="4.9"/>
<rect x="2365.06" y="1261.1" width="4.98" height="22.80"/>
<rect x="2246.35" y="1261.1" width="4.98" height="17.84"/>
<rect x="2127.65" y="1261.1" width="4.98" height="17.84"/>
<rect x="2008.94" y="1261.1" width="4.98" height="17.84"/>
<rect x="1890.24" y="1261.1" width="4.98" height="17.84"/>
<rect x="1771.53" y="1261.1" width="4.98" height="22.80"/>
<rect x="1652.82" y="1261.1" width="4.98" height="17.84"/>
<rect x="1534.12" y="1261.1" width="4.98" height="17.84"/>
<rect x="1415.41" y="1261.1" width="4.98" height="17.84"/>
<rect x="1296.71" y="1261.1" width="4.98" height="17.84"/>
<rect x="1178.00" y="1261.1" width="4.98" height="22.80"/>
<rect x="1059.29" y="1261.1" width="4.98" height="17.84"/>
<rect x="940.59" y="1261.1" width="4.98" height="17.84"/>
<rect x="821.88" y="1261.1" width="4.98" height="17.84"/>
<rect x="703.18" y="1261.1" width="4.98" height="17.84"/>
<rect x="584.47" y="1261.1" width="4.98" height="22.80"/>
<rect x="465.76" y="1261.1" width="4.98" height="17.84"/>
<rect x="347.06" y="1261.1" width="4.98" height="17.84"/>
<rect x="228.35" y="1261.1" width="4.98" height="17.84"/>
</g>
<g font-family="'Liberation Sans', Arial, Helvetica, sans-serif" fill="#000000" style="font-kerning:none;font-variant-ligatures:none" font-kerning="none">
<g stroke="#000000" stroke-width="0.3" stroke-linejoin="round">
<text transform="translate(587.16 1374.30) scale(1.0 1.04)" font-size="75.5" text-anchor="middle">3300</text>
<text transform="translate(1180.69 1374.30) scale(1.0 1.04)" font-size="75.5" text-anchor="middle">2300</text>
<text transform="translate(1774.22 1374.30) scale(1.0 1.04)" font-size="75.5" text-anchor="middle">1300</text>
<text transform="translate(2367.75 1374.30) scale(1.0 1.04)" font-size="75.5" text-anchor="middle">300</text>
<text transform="translate(849.5 1470)" font-size="83.0">Wavenumber (cm<tspan font-size="56" dy="-26.3">-1</tspan><tspan dy="26.3">)</tspan></text>
<text transform="translate(98.8 909.2) rotate(-90)" font-size="83.05">Trasnmittance (a.u.)</text>
<text transform="translate(168.30 90.80) scale(1.0 1.056)" font-size="60.5" text-anchor="start">PHBV/PVA E15</text>
<text transform="translate(168.30 287.00) scale(1.0 1.056)" font-size="60.5" text-anchor="start">PHBV/PVA E10</text>
<text transform="translate(172.30 509.00) scale(1.0 1.056)" font-size="60.5" text-anchor="start">PHBV/PVA E5</text>
<text transform="translate(168.30 729.60) scale(1.0 1.056)" font-size="60.5" text-anchor="start">PHBV/PVA E2</text>
<text transform="translate(188.40 938.00) scale(1.0 1.056)" font-size="60.5" text-anchor="start">PPy</text>
<text transform="translate(1483.90 1209.30) scale(1.0 1.0)" font-size="51.7" text-anchor="start">1548</text>
<text transform="translate(1766.00 1223.60) scale(1.0 1.0)" font-size="52" text-anchor="start">1100</text>
<text transform="translate(2018.50 1158.30) scale(1.0 1.0)" font-size="52.1" text-anchor="start">780-1050</text>
</g>
</g>
</svg>
</body></html>
